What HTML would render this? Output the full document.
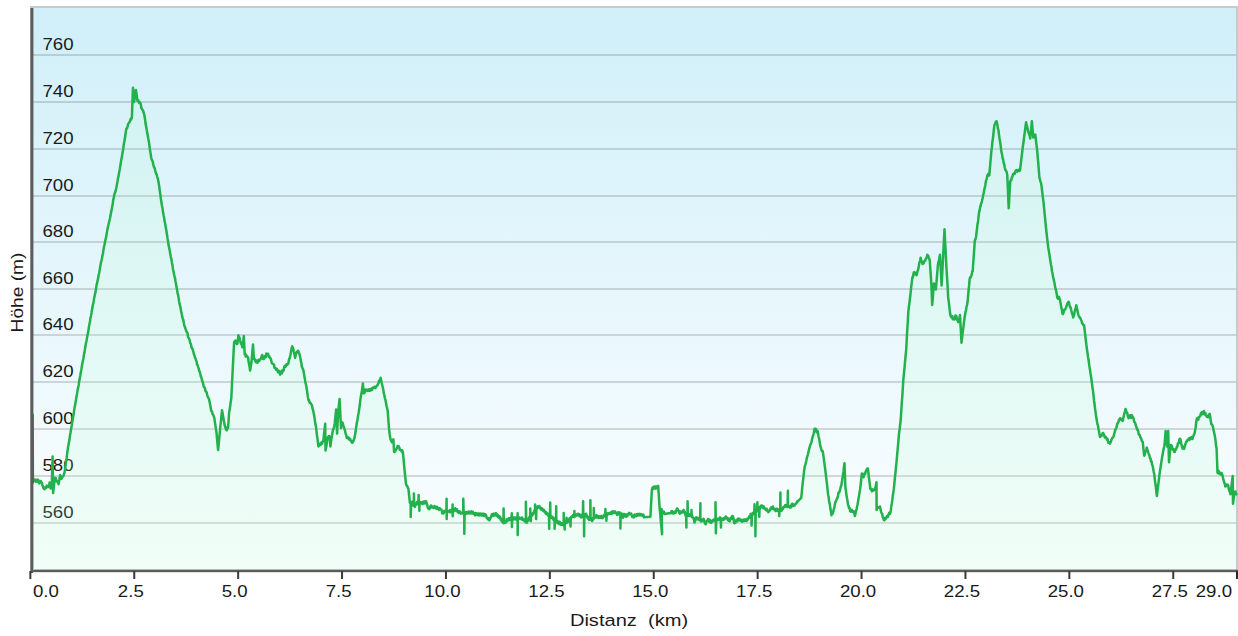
<!DOCTYPE html>
<html><head><meta charset="utf-8"><style>
html,body{margin:0;padding:0;background:#fff;width:1238px;height:636px;overflow:hidden}
svg{display:block}
text{font-family:"Liberation Sans",sans-serif;fill:#1a1a1a}
.yl{font-size:16.5px}
.xl{font-size:16.5px}
.tt{font-size:16.8px}
</style></head><body>
<svg width="1238" height="636" viewBox="0 0 1238 636">
<defs>
<linearGradient id="bg" x1="0" y1="0" x2="0" y2="1">
<stop offset="0" stop-color="#d0eff9"/>
<stop offset="1" stop-color="#fcfeff"/>
</linearGradient>
</defs>
<rect x="30" y="6" width="1208" height="565" fill="#c8c8c8"/>
<rect x="32" y="7" width="1205" height="563" fill="#c3cdd1"/>
<rect x="33" y="8" width="1203" height="562" fill="url(#bg)"/>
<g shape-rendering="crispEdges"><rect x="33" y="54" width="1203" height="2" fill="#000" fill-opacity="0.14"/><rect x="33" y="101" width="1203" height="2" fill="#000" fill-opacity="0.14"/><rect x="33" y="148" width="1203" height="2" fill="#000" fill-opacity="0.14"/><rect x="33" y="195" width="1203" height="2" fill="#000" fill-opacity="0.14"/><rect x="33" y="241" width="1203" height="2" fill="#000" fill-opacity="0.14"/><rect x="33" y="288" width="1203" height="2" fill="#000" fill-opacity="0.14"/><rect x="33" y="334" width="1203" height="2" fill="#000" fill-opacity="0.14"/><rect x="33" y="381" width="1203" height="2" fill="#000" fill-opacity="0.14"/><rect x="33" y="428" width="1203" height="2" fill="#000" fill-opacity="0.14"/><rect x="33" y="475" width="1203" height="2" fill="#000" fill-opacity="0.14"/><rect x="33" y="522" width="1203" height="2" fill="#000" fill-opacity="0.14"/></g>
<g><text transform="translate(42.5,50) scale(1.13,1)" class="yl">760</text><text transform="translate(42.5,97) scale(1.13,1)" class="yl">740</text><text transform="translate(42.5,144) scale(1.13,1)" class="yl">720</text><text transform="translate(42.5,191) scale(1.13,1)" class="yl">700</text><text transform="translate(42.5,237) scale(1.13,1)" class="yl">680</text><text transform="translate(42.5,284) scale(1.13,1)" class="yl">660</text><text transform="translate(42.5,330) scale(1.13,1)" class="yl">640</text><text transform="translate(42.5,377) scale(1.13,1)" class="yl">620</text><text transform="translate(42.5,424) scale(1.13,1)" class="yl">600</text><text transform="translate(42.5,471) scale(1.13,1)" class="yl">580</text><text transform="translate(42.5,518) scale(1.13,1)" class="yl">560</text></g>
<path d="M32.6,414.7 L32.9,482.6 L33.5,481.1 L34.1,479.6 L34.7,479.6 L35.2,480.8 L35.7,479.8 L36.2,481.9 L36.7,481.2 L37.2,480 L37.7,479.6 L38.2,479.8 L38.7,482.2 L39.2,483.4 L39.8,481.4 L40.3,482.7 L40.9,481.1 L41.4,482.6 L41.9,482.8 L42.4,484.9 L42.9,486.3 L43.4,488.2 L43.9,487.3 L44.4,489.3 L45,487.6 L45.5,487.8 L46.1,487.9 L46.7,485.6 L47.4,486.6 L48.1,487.1 L48.6,485.4 L49.1,485.2 L49.6,482.6 L50.2,484.8 L50.7,488.6 L51.3,485.4 L51.9,481.1 L52.6,456.5 L53.1,493.1 L53.7,487.8 L54.3,482.7 L54.9,478.1 L55.5,477.7 L56,479 L56.5,481.3 L57.1,481.1 L57.6,481.2 L58.1,483.3 L58.6,484.1 L59.1,481.3 L59.6,477.9 L60.1,475.1 L60.6,476.5 L61.1,476.5 L61.6,478.9 L62.1,476.8 L62.6,476.5 L63.1,476.6 L63.8,474.8 L64.6,472.2 L65.1,468.6 L65.6,464.9 L66.1,461.7 L66.7,457.7 L67.2,453.4 L67.8,449.1 L68.4,445.3 L68.9,442.6 L69.5,439.3 L70,435.4 L70.5,432.8 L71,429.5 L71.5,426.9 L72.1,423.5 L72.6,420 L73.2,416.3 L73.7,414.1 L74.3,409.4 L74.8,406.5 L75.4,403.3 L75.9,400.6 L76.5,396.5 L77,393.9 L77.6,390 L78.1,387.9 L78.7,384.9 L79.2,381.3 L79.7,378.5 L80.2,376 L80.8,372.2 L81.3,369.9 L81.8,366.8 L82.3,363.8 L82.9,360.7 L83.4,358.4 L83.9,354.9 L84.4,352.8 L84.9,349.2 L85.4,346.6 L86,342.8 L86.5,341 L87,338.1 L87.5,335 L88,333.1 L88.5,330 L89,326.4 L89.5,323.8 L90,321.5 L90.5,317.7 L91,315.7 L91.5,313 L92,309.8 L92.5,307 L93,304.2 L93.5,302.7 L94,298.9 L94.5,296.4 L95,294 L95.5,292.1 L96,288.8 L96.5,285.4 L97,283.4 L97.5,281 L98,278.9 L98.5,275.6 L99.1,273.3 L99.6,270.5 L100.2,266.7 L100.7,264.1 L101.3,261.1 L101.8,259.2 L102.4,255.7 L102.9,253.7 L103.5,249.6 L104,246.9 L104.6,244.2 L105.1,241.5 L105.6,239.2 L106.2,236.6 L106.7,233.7 L107.2,230.6 L107.8,227.5 L108.3,225.6 L108.9,222.9 L109.4,220.6 L109.9,218.7 L110.5,215.6 L111,212.6 L111.6,210.1 L112.1,207.3 L112.7,204.3 L113.2,199.9 L113.8,198 L114.4,194 L114.9,193 L115.4,191.5 L115.9,189.7 L116.4,187.4 L117,184.3 L117.5,181.4 L118.1,177.9 L118.6,175.9 L119.2,172 L119.7,169.8 L120.3,165.8 L120.8,162.7 L121.4,159.4 L122,156.3 L122.5,152.6 L123.1,150 L123.6,145.7 L124.2,142.3 L124.8,138.7 L125.3,135.5 L125.9,131.4 L126.4,128.5 L127,128.4 L127.5,126.6 L128.1,124.2 L128.6,123.4 L129.1,122.6 L129.7,121.9 L130.2,120.4 L130.8,118.6 L131.3,119.5 L131.9,117.4 L132.5,100 L133,87.7 L133.6,95.3 L134.1,102 L134.7,97.9 L135.3,93.9 L135.9,89.9 L136.4,93 L136.9,96.7 L137.4,100.9 L137.9,100.6 L138.5,100.5 L139.1,103 L139.6,102 L140.2,102.8 L140.8,104.2 L141.3,108 L141.9,108.6 L142.4,109.9 L142.9,110.1 L143.5,112.3 L144,113.4 L144.5,115.9 L145.1,119.8 L145.6,123.8 L146.2,126.8 L146.7,129.4 L147.2,132.9 L147.8,135.5 L148.3,138.8 L148.9,141.8 L149.4,145.5 L150,149.9 L150.6,153.5 L151.2,157.5 L151.7,159.7 L152.2,160.2 L152.7,161.5 L153.2,164.3 L153.7,166.3 L154.2,167.5 L154.7,168.2 L155.2,170.6 L155.7,172.3 L156.2,173.9 L156.7,174.5 L157.2,176.8 L157.7,178.2 L158.2,180.2 L158.7,183.3 L159.3,187 L159.8,191.1 L160.4,194.8 L160.9,198.9 L161.4,202.3 L162,205.9 L162.5,208.2 L163,212.1 L163.6,215.3 L164.1,217.6 L164.6,221.3 L165.1,223.4 L165.6,226.2 L166.1,229.2 L166.6,232.2 L167.1,235.2 L167.6,238.9 L168.1,241.7 L168.6,245.3 L169.2,248.1 L169.7,250.4 L170.2,253.6 L170.8,256.8 L171.3,258.5 L171.9,262.4 L172.4,265 L172.9,268.4 L173.4,270.9 L173.9,273.5 L174.4,275.8 L175,278 L175.5,281.7 L176,283.6 L176.5,287.1 L177,289.3 L177.5,292.9 L178.1,294.8 L178.6,297.6 L179.1,301.4 L179.6,303.9 L180.1,305.8 L180.7,308.5 L181.2,312 L181.7,313.4 L182.3,317.1 L182.8,319 L183.3,319.8 L183.9,323.3 L184.4,325.7 L185,327.2 L185.5,329 L186,330 L186.6,331.9 L187.1,332.3 L187.6,333.5 L188.1,337.2 L188.6,337.8 L189.2,339 L189.7,340.3 L190.2,343 L190.8,343.7 L191.3,346.4 L191.8,348.1 L192.4,348.5 L192.9,350.4 L193.5,352.3 L194,354.5 L194.5,355.4 L195,357.8 L195.6,358.6 L196.1,360.5 L196.6,361.4 L197.1,364.7 L197.6,365 L198.1,366.8 L198.7,368.6 L199.2,370.9 L199.7,371.5 L200.2,373.3 L200.8,376.2 L201.3,377.3 L201.8,379.3 L202.3,381.2 L202.8,382.1 L203.4,384.9 L203.9,387 L204.4,387.3 L204.9,388 L205.5,391.2 L206,391.6 L206.6,392.3 L207.1,394.5 L207.7,396.6 L208.2,397.6 L208.8,398.5 L209.3,400.4 L209.9,403.2 L210.4,406 L210.9,409.2 L211.5,411.4 L212.1,411.7 L212.6,414.2 L213.2,414.7 L213.7,416.1 L214.3,418 L214.9,422 L215.4,425.2 L215.9,428.9 L216.5,432.4 L217,438.5 L217.6,444.6 L218.1,450 L218.7,444.2 L219.2,438.6 L219.8,432.7 L220.3,426.9 L220.9,421.4 L221.4,416 L222,410.3 L222.6,413.2 L223.1,416.4 L223.6,419.3 L224.2,422.4 L224.7,425.5 L225.3,427.2 L225.8,429 L226.4,430.2 L226.9,430.2 L227.4,427.3 L228,428 L228.6,420.3 L229.1,412.5 L229.7,409.6 L230.2,405.9 L230.8,401.2 L231.3,398.2 L231.9,385.8 L232.5,373.9 L233.1,361.8 L233.6,351.8 L234.1,342.4 L234.7,341.3 L235.4,340.5 L236,342.4 L236.5,343.4 L237,344.1 L237.5,343.4 L238.4,335.2 L238.9,337.6 L239.4,337.2 L239.9,339.5 L240.5,341.9 L241.1,343.8 L241.7,344.6 L242.3,347.3 L242.8,344.1 L243.3,340.5 L243.8,336.1 L244.7,354.1 L245.2,353.6 L245.7,356.6 L246.2,355.2 L246.7,356 L247.4,356.7 L248.1,357.5 L248.6,361.5 L249.1,364.5 L249.6,366.7 L250.1,370.5 L250.8,366 L251.5,361.8 L252,356 L252.5,350 L253,344.4 L253.9,358.9 L254.4,358.6 L254.9,359.7 L255.4,360.9 L256,362.3 L256.7,360.5 L257.3,362.8 L257.8,362.5 L258.3,361.6 L258.8,359.7 L259.3,360.9 L260,359.4 L260.7,358.9 L261.2,357.9 L261.7,356.3 L262.2,355 L263.1,358.9 L263.6,356.8 L264.1,358.9 L264.6,357.6 L265.1,356 L265.7,357.2 L266.3,353.6 L266.9,353.7 L267.5,354.1 L268.1,353.7 L268.7,356.8 L269.3,356.3 L269.9,357.9 L270.5,358.1 L271.1,360 L271.6,362.6 L272.2,363.5 L272.8,363.8 L273.4,364.1 L274,364.7 L274.5,367.9 L275.1,367.8 L275.7,368.6 L276.3,370 L276.9,368.9 L277.4,369.6 L278,372.3 L278.6,372.5 L279.1,372.3 L279.6,371 L280.1,374.7 L280.6,373 L281.2,373.1 L281.8,373.4 L282.4,370.3 L283,371.5 L283.6,370.4 L284.3,366.6 L284.9,365.7 L285.5,366.8 L286.1,364.9 L286.6,364.2 L287.2,364.7 L287.8,364.2 L288.3,363.6 L288.8,360.5 L289.3,358.6 L289.8,357.9 L290.4,355 L291,351.6 L291.6,348.5 L292.2,346.3 L292.7,347.2 L293.2,348.6 L293.7,351.2 L294.4,354 L295.1,357.9 L295.6,355.6 L296.1,353.6 L296.6,352.1 L297.3,352.3 L298,350.7 L298.5,351.3 L299,353 L299.5,354.1 L300.1,356.7 L300.7,360.1 L301.3,362.7 L301.9,366.7 L302.5,368.1 L303.2,369.5 L303.8,372.5 L304.4,376.6 L305,379.9 L305.5,382.8 L306.1,385 L306.6,388.3 L307.1,391.2 L307.8,396.4 L308.5,400.4 L309,399.9 L309.6,402.8 L310.1,402.3 L310.6,403.2 L311.3,404.3 L312,405.4 L312.5,408.5 L313.1,410.2 L313.6,412.8 L314.1,415.3 L314.7,419.1 L315.2,423.1 L315.8,425.6 L316.3,429.4 L316.8,434.1 L317.4,438.2 L317.9,442.3 L318.4,446.4 L318.9,445.7 L319.4,445.1 L320,443.7 L320.5,445 L321.1,443.1 L321.6,442.2 L322.2,443.6 L322.7,441.3 L323.3,441.4 L323.9,435.1 L324.6,429.1 L325.2,423.7 L325.5,450.6 L326,448 L326.6,444.8 L327.1,441.3 L327.6,437.9 L328.1,436.8 L328.6,436.3 L329.2,436.1 L329.7,436.5 L330.4,446.4 L330.9,442.8 L331.4,438.8 L332,435.7 L332.5,432.2 L333.1,429.6 L333.6,428.9 L334.1,426.8 L334.7,423.7 L335.4,416.7 L336.1,409.6 L336.6,421.5 L337.1,433.6 L337.6,423.3 L338.2,412.4 L338.9,405.5 L339.6,399 L340.3,413.4 L341,428 L341.7,424.2 L342.4,422.3 L342.9,423.8 L343.5,425.8 L344.1,427.6 L344.6,429.4 L345.1,430.9 L345.6,433.7 L346.2,434.8 L346.7,437.9 L347.3,437.5 L347.8,437.3 L348.4,438.8 L348.9,437.9 L349.5,440 L350.1,438.9 L350.6,440.5 L351.2,440.8 L351.7,442.5 L352.3,442.8 L352.9,441.7 L353.4,441 L353.9,439.5 L354.5,437.9 L355,434.9 L355.6,431.8 L356.1,427.7 L356.6,424.5 L357.1,421.2 L357.6,419.2 L358.2,414.9 L358.7,412.4 L359.2,408.8 L359.8,404.8 L360.3,400.2 L360.8,396.9 L361.3,394 L361.9,390.7 L362.4,387 L362.9,383.4 L363.6,393.3 L364.2,393.1 L364.7,392.5 L365.2,389.6 L365.8,389.8 L366.3,389.8 L366.8,389.6 L367.3,390.9 L367.8,390.7 L368.3,390.7 L368.8,389.5 L369.3,389.1 L369.9,390.8 L370.4,390.1 L371,390.3 L371.5,388.6 L372.1,389.8 L372.7,387.7 L373.3,387.6 L373.8,388 L374.4,386.7 L375,387.7 L375.5,388.2 L376,386.7 L376.5,386.3 L377,385.6 L377.5,385.2 L378,384 L378.5,383.4 L379,380.8 L379.6,381.3 L380.1,379.8 L380.6,377.8 L381.1,380.1 L381.6,382.5 L382.2,385 L382.7,387 L383.2,389.1 L383.8,393.1 L384.3,395 L384.9,398.3 L385.5,400 L386,402.9 L386.6,406.3 L387.1,407.9 L387.7,411 L388.4,420.4 L389.1,429.4 L389.8,435 L390.5,439.3 L391.2,440.7 L391.9,442.1 L392.4,440.8 L392.9,440.2 L393.4,439.3 L394.1,452 L394.6,451.9 L395.1,451.4 L395.7,450.3 L396.2,449.2 L396.8,448.7 L397.5,446 L398.1,446.3 L398.7,446.2 L399.3,447.5 L399.9,449.9 L400.5,450.2 L401.1,450.1 L401.7,451.6 L402.3,450.3 L402.9,452.6 L403.4,457.4 L403.9,462.8 L404.4,468.3 L404.9,473.7 L405.5,479 L406,484 L406.6,485.7 L407.2,485.8 L407.8,487.6 L408.4,488.7 L408.9,493.4 L409.4,498.1 L409.9,502.9 L410,502.9 L410.7,501.9 L410.7,517 L411.1,503.9 L411.4,502.9 L411.4,502.1 L411.8,504.1 L412.1,504 L412.5,501.8 L412.8,503.4 L413.2,504.8 L413.2,505 L413.5,505.7 L413.9,504.8 L413.9,493.5 L414.2,504.8 L414.6,505.1 L414.6,505 L414.9,506.9 L415.3,504.5 L415.6,505 L416,503.4 L416.3,503.9 L416.7,504.5 L417,501.9 L417.4,503.8 L417.7,503 L417.9,503.2 L418.1,504.1 L418.4,503.7 L418.6,495 L418.7,503.3 L418.8,502.5 L419.1,504.3 L419.3,503.2 L419.4,510.8 L419.5,503.3 L419.8,502.1 L420.1,503.3 L420.2,502.1 L420.5,503.5 L420.9,503.4 L421.2,503.1 L421.6,502.7 L421.9,503.2 L422.3,502.9 L422.6,504.1 L423,501.8 L423.3,503.5 L423.7,503.6 L424,501.5 L424.4,503.5 L424.7,502.7 L425.1,503 L425.4,501.3 L425.8,501.3 L426.1,501.2 L426.5,502.8 L426.8,503.5 L427.2,504.6 L427.5,506.5 L427.9,507.9 L428.2,507.8 L428.6,507.6 L428.9,509.2 L429.3,507.4 L429.6,508.7 L430,506.6 L430.3,506.3 L430.7,506.6 L431,505.4 L431.4,505.7 L431.7,507.4 L432.1,507.3 L432.4,507.2 L432.8,506.9 L433.1,507.7 L433.5,507.9 L433.8,507 L434.2,507.6 L434.5,506 L434.9,507.8 L435.2,507.2 L435.6,508.1 L435.9,508 L436.3,507.2 L436.6,506.7 L437,509.1 L437.3,507.1 L437.7,508.1 L438,507.9 L438.4,507.9 L438.7,509.2 L439.1,509.9 L439.4,508.2 L439.8,509.3 L440.1,508.5 L440.5,509.3 L440.8,509.3 L441.2,509.4 L441.5,510.1 L441.9,510.9 L442.2,513.4 L442.6,512.3 L442.9,511.5 L443.3,513.2 L443.6,513.4 L444,512 L444.3,511.1 L444.7,511.2 L445,510.9 L445.4,511.5 L445.7,510.8 L445.9,511.8 L446,511.8 L446.1,511.2 L446.4,511.2 L446.6,498.7 L446.7,519.1 L446.8,511.9 L447.1,512.7 L447.3,511.8 L447.4,511.8 L447.5,512.3 L447.8,511.4 L448.2,511.4 L448.5,511.6 L448.9,511.2 L449.2,511 L449.6,510.3 L449.9,510.8 L450.3,512.4 L450.6,510.1 L451,511 L451.3,511.2 L451.7,511.7 L451.9,510.4 L452,510.4 L452,509.9 L452.4,509.9 L452.6,504.6 L452.7,516.2 L452.7,509.7 L453.1,510 L453.3,510.4 L453.4,510.4 L453.4,510 L453.8,511.2 L454.1,510.8 L454.5,510.7 L454.8,508.4 L455.2,508.3 L455.5,509.9 L455.9,510.7 L456.2,509.9 L456.6,510.4 L456.9,509.1 L457.3,510.4 L457.6,512.1 L458,512.1 L458.3,512.4 L458.7,513 L459,511.3 L459.4,511.2 L459.7,511.4 L460.1,512.4 L460.4,512.9 L460.8,513.6 L461.1,513.1 L461.5,512.9 L461.8,513.3 L462.2,512.5 L462.5,512.8 L462.6,512.8 L462.9,511.5 L463.2,513.5 L463.3,498.7 L463.6,512.1 L463.6,512.9 L463.9,514 L464,512.8 L464.3,513.3 L464.3,533.7 L464.6,512.5 L465,512 L465,512.9 L465.3,512.4 L465.7,513.5 L466,513.7 L466.4,512.2 L466.7,512.1 L467.1,513.3 L467.4,513.4 L467.8,512.8 L468.1,512.2 L468.5,513.1 L468.8,511.4 L469.2,512 L469.5,512.3 L469.9,513.5 L470.2,512.5 L470.6,513 L470.9,511.8 L471.3,511.2 L471.6,511.5 L472,513.5 L472.3,513.1 L472.7,512.3 L473,511.8 L473.4,513.2 L473.7,513.9 L474.1,513.5 L474.4,513.3 L474.8,514.6 L475.1,515.4 L475.5,513.6 L475.8,513.1 L476.2,513.9 L476.5,514.1 L476.9,514.8 L477.2,513.5 L477.6,515.1 L477.9,514.9 L478.3,514.3 L478.6,513.5 L479,515.5 L479.3,513.8 L479.7,515.1 L480,513.6 L480.4,513.6 L480.7,515 L481.1,513.8 L481.4,515.6 L481.8,514.4 L482.1,513.7 L482.5,513.8 L482.8,514.3 L483.2,515 L483.5,515.8 L483.9,513.8 L484.2,514.5 L484.6,514 L484.9,516.2 L485.3,514.4 L485.6,514.5 L486,514.9 L486.3,516.1 L486.7,517.8 L487,518.1 L487.4,518.1 L487.7,519.1 L488.1,519.3 L488.4,518.1 L488.8,518 L489.1,520.3 L489.5,520.2 L489.8,517.9 L490.2,519 L490.5,517.6 L490.9,517 L491.2,516.3 L491.6,515.3 L491.9,514.3 L492.3,514.5 L492.6,514.4 L493,515.9 L493.3,513.7 L493.7,515.8 L494,513.8 L494.4,514.2 L494.7,515.3 L495.1,515.3 L495.4,514.2 L495.8,513.2 L496.1,514.3 L496.5,514.1 L496.8,515.9 L497.2,514.4 L497.5,515.1 L497.9,516.9 L498.2,515 L498.6,516.3 L498.9,517.7 L499.3,517.9 L499.6,516.4 L500,516.7 L500.3,517.2 L500.7,519.8 L501,518.6 L501.4,520.3 L501.7,521.1 L502.1,520.1 L502.4,520.3 L502.8,522.5 L502.9,522.4 L503.1,522.1 L503.5,521.6 L503.6,508.4 L503.8,523.2 L504.2,522.5 L504.3,522.4 L504.5,522 L504.9,521 L505.2,522.6 L505.6,522.6 L505.9,521.5 L506.3,522 L506.6,519.3 L507,519.5 L507.3,519.7 L507.7,520.6 L508,520.3 L508.4,518.8 L508.7,518.4 L509.1,518.8 L509.4,519 L509.8,520.1 L510.1,518.1 L510.5,519.7 L510.8,519.5 L511.1,518.8 L511.2,519.7 L511.2,518.8 L511.5,519.6 L511.8,513.3 L511.9,519.1 L511.9,526.9 L512.2,518.4 L512.5,518.8 L512.6,518.3 L512.6,518.8 L512.9,518.4 L513.1,518.7 L513.3,519.5 L513.6,517.6 L513.8,519.1 L514,517.9 L514.3,519.3 L514.5,518.7 L514.7,518 L515,517.5 L515.4,517.4 L515.7,518.7 L516.1,518.1 L516.4,519.8 L516.8,519.5 L516.9,518.5 L517,518.5 L517.1,519.8 L517.5,517.9 L517.6,513.3 L517.7,535.1 L517.8,517.4 L518.2,517.4 L518.3,518.5 L518.4,518.5 L518.5,518.4 L518.9,518.9 L519.2,518.2 L519.6,517.6 L519.9,518.1 L520.3,518.6 L520.6,518.7 L521,518.9 L521.3,519.1 L521.7,518.7 L522,517.5 L522.4,519.7 L522.7,518.5 L523.1,519.5 L523.4,519.3 L523.8,520.5 L524.1,519.4 L524.5,519.8 L524.8,520.1 L525.2,520.1 L525.2,521.6 L525.5,522.3 L525.9,521.8 L525.9,501.7 L526.2,521.4 L526.6,521.5 L526.6,521.6 L526.9,522.6 L527.3,520.9 L527.6,519.7 L528,520.7 L528.3,519.9 L528.7,520.3 L529,517.5 L529.4,518 L529.6,516.8 L529.7,518.5 L530.1,518 L530.1,516.2 L530.3,508.4 L530.4,517.8 L530.8,515 L530.8,521.1 L531,516.8 L531.1,515.2 L531.5,514.3 L531.5,516.2 L531.8,514 L532.2,515.6 L532.5,514.1 L532.9,514.6 L533.2,512.7 L533.6,513.5 L533.9,511.9 L534.3,511 L534.4,510.5 L534.6,511.9 L535,511.8 L535.1,504.6 L535.3,509.2 L535.4,509.1 L535.7,510 L535.8,510.5 L536,509.6 L536.1,519.1 L536.4,508.1 L536.7,508 L536.8,509.1 L537.1,507 L537.4,506.7 L537.8,506.3 L538.1,506.8 L538.5,507.2 L538.8,506.3 L539.2,506 L539.5,507.1 L539.9,508.3 L540.2,507.3 L540.6,507.9 L540.9,507.9 L541.3,509.7 L541.6,509.3 L542,508.3 L542.3,508.7 L542.7,509.7 L543,510.4 L543.4,510.9 L543.7,509.8 L544.1,510.2 L544.4,511.9 L544.8,511.4 L545.1,511.4 L545.5,511.7 L545.8,513.7 L546.2,512.3 L546.5,513.2 L546.9,513 L547.2,513.4 L547.6,514.9 L547.9,515.5 L548.3,514.2 L548.5,515.3 L548.6,514 L549,515.7 L549.2,528.8 L549.3,514.6 L549.5,516.1 L549.7,514.4 L549.9,515.3 L550,517 L550.2,502.6 L550.4,516.1 L550.7,517.4 L550.9,516.1 L551.1,516.6 L551.4,518.1 L551.8,517.3 L552.1,516.8 L552.5,516.7 L552.8,518.4 L553.2,518.9 L553.5,519.9 L553.9,518.1 L553.9,519.8 L554.2,519.8 L554.6,519.4 L554.6,528.8 L554.9,520 L555.3,519.4 L555.3,519.8 L555.5,521.1 L555.6,520.1 L556,521 L556.2,506.2 L556.3,522.3 L556.7,520.5 L556.9,521.1 L557,521.7 L557.4,522.7 L557.7,523.3 L558.1,521.5 L558.4,521.5 L558.8,523.7 L559.1,524 L559.5,522.9 L559.8,521.9 L560.2,524.4 L560.5,523.2 L560.9,524.7 L561.2,524.1 L561.6,524.8 L561.9,523.3 L562.3,525.1 L562.6,523.8 L563,524.3 L563,524 L563.3,525.2 L563.7,524.9 L563.7,512.9 L564,523.3 L564,523 L564.4,522.8 L564.4,524 L564.7,529.4 L564.7,523.1 L565.1,523.1 L565.4,523.3 L565.4,522.5 L565.8,521.6 L565.9,522 L566.1,521.7 L566.5,522.7 L566.6,517.8 L566.8,522.9 L567.2,520.5 L567.3,522 L567.5,521.6 L567.9,521.9 L568.2,519.8 L568.6,521.6 L568.9,519.3 L569.3,520.1 L569.6,519.5 L569.8,518.1 L570,519.2 L570.3,517.9 L570.5,526.5 L570.7,517.7 L571,517.7 L571.2,518.1 L571.4,516.8 L571.7,517.2 L572.1,516.5 L572.4,516.5 L572.8,515.3 L573.1,516.8 L573.5,516.4 L573.7,516.2 L573.8,515.6 L574.2,516.9 L574.4,511 L574.5,516.9 L574.9,516 L575.1,516.2 L575.2,515.2 L575.6,515.9 L575.9,514.8 L576.3,514.8 L576.6,515.4 L577,514.4 L577.3,515.1 L577.7,515.2 L578,513.8 L578.4,515.3 L578.7,514 L579.1,515.9 L579.4,516.3 L579.8,515.8 L580.1,514.8 L580.5,516.2 L580.8,516 L581.2,517.4 L581.5,515.1 L581.9,516.9 L582.2,517.2 L582.4,515.7 L582.6,516.4 L582.9,516.5 L583.1,501.3 L583.3,514.8 L583.4,515.4 L583.6,516.8 L583.8,515.7 L584,515.4 L584.1,536.2 L584.3,516.5 L584.7,516.3 L584.8,515.4 L585,514.3 L585.4,515.8 L585.7,516.1 L586.1,513.8 L586.4,515.1 L586.8,516.7 L587.1,515.6 L587.5,518 L587.8,516.9 L588.2,518.8 L588.5,517.3 L588.9,518.6 L589.2,519.9 L589.6,518.4 L589.7,519.9 L589.9,518.9 L590.3,519.8 L590.4,500.3 L590.6,519.6 L591,519.2 L591.1,519.9 L591.3,519.9 L591.7,519.4 L592,521.1 L592.4,520 L592.7,520.2 L593.1,517.9 L593.1,518 L593.4,519.1 L593.8,517 L593.8,508.1 L594.1,517.7 L594.5,517.6 L594.5,518 L594.8,516.5 L595.2,517.5 L595.5,516.3 L595.9,516.2 L596.2,517 L596.6,515.1 L596.9,517.6 L597.3,516.7 L597.6,516.2 L598,517.4 L598.3,516.1 L598.7,518.1 L599,517.1 L599.4,516.6 L599.7,517.7 L600.1,516.9 L600.4,516.3 L600.8,517.8 L601.1,516.1 L601.5,518.1 L601.8,516.5 L602.2,517.4 L602.5,518.1 L602.9,516.9 L603.2,517 L603.6,515.9 L603.9,515 L604.3,514.9 L604.6,515 L604.7,515.6 L605,516.1 L605.3,515.5 L605.4,509.1 L605.7,515.5 L605.7,515.2 L606,516.4 L606.1,515.6 L606.4,514.2 L606.4,520.7 L606.7,514.3 L607.1,515.3 L607.1,515.2 L607.4,513.5 L607.8,513.3 L608.1,514 L608.5,513.2 L608.8,513.7 L609.2,513.2 L609.5,514 L609.9,513.9 L610.2,512.7 L610.6,513.6 L610.9,513 L611.3,512 L611.6,513.9 L612,511.9 L612.3,511.5 L612.7,511.2 L613,512.4 L613.4,513 L613.7,512.9 L614.1,512 L614.4,511.8 L614.8,511.2 L615.1,513 L615.5,512.8 L615.8,512.4 L616.2,513.3 L616.3,513.1 L616.5,512.8 L616.9,514.2 L617,514.9 L617.2,513.8 L617.6,512.6 L617.7,513.1 L617.9,514.4 L618.3,512.3 L618.6,513.7 L619,513.4 L619.3,513.1 L619.7,512.7 L619.7,514.1 L620,514.7 L620.4,512.8 L620.4,528.4 L620.7,514.3 L621.1,515.4 L621.1,514.1 L621.4,513.5 L621.8,513.7 L622.1,514.8 L622.1,514.9 L622.5,514.7 L622.8,517.8 L622.8,515.1 L623.2,515.7 L623.5,514.8 L623.5,514.1 L623.9,514.6 L624.2,514.7 L624.6,514.1 L624.9,516.4 L625.3,516.2 L625.6,516.1 L626,514.4 L626.3,516.7 L626.7,516.5 L627,515.6 L627.4,516 L627.7,515 L628.1,514.1 L628.4,513.6 L628.8,513.6 L629.1,512.9 L629.5,513.4 L629.8,514.2 L630.2,513.8 L630.5,513.9 L630.9,514 L631.2,513.5 L631.6,515 L631.9,515.4 L632.3,517 L632.6,516.8 L633,516 L633.3,516.8 L633.7,517.4 L634,515.3 L634.4,516.9 L634.7,514.5 L635.1,514.9 L635.4,514.7 L635.8,515.9 L636.1,516.2 L636.5,515.5 L636.8,514.3 L637.2,515.7 L637.5,514.2 L637.9,513.9 L638.2,515.5 L638.6,514.7 L638.9,514.8 L639.3,514.6 L639.6,515.3 L640,513.9 L640.3,514.8 L640.7,514.6 L641,515.3 L641.4,514.4 L641.7,515.4 L642.1,515.2 L642.4,514.7 L642.8,514.7 L643.1,516 L643.5,514.8 L643.8,517.2 L650.4,516.8 L650.9,507.5 L651.4,498.4 L651.9,489.7 L652.5,487.5 L653.2,489.1 L653.8,486.8 L654.3,486.7 L654.8,486.5 L655.3,486.6 L655.8,488.7 L656.4,486.5 L657,487.9 L657.6,487 L658.2,485.8 L658.7,493.7 L659.2,501.5 L659.7,509.1 L660.3,514.9 L660.9,521.8 L661.5,527.9 L662.1,534.3 L661.6,509.1 L662.2,511 L662.8,512 L663.3,513.1 L663.9,511.7 L664.5,513.9 L670.3,513 L670.6,513.1 L671,513.3 L671.4,511.2 L671.7,511.5 L672.1,511.3 L672.4,511.2 L672.8,513.4 L673.1,513.3 L673.5,513 L673.8,513.5 L674.2,513.1 L674.5,512.3 L674.9,511.8 L675.2,511.5 L675.6,512.7 L675.9,510.7 L676.3,510.5 L676.6,510.2 L677,508.6 L677.3,508.6 L677.7,508.9 L678,510.6 L678.4,510.3 L678.7,510.7 L679.1,512.9 L679.4,512.3 L679.8,513.7 L680.1,513.1 L680.5,511.4 L680.8,512.2 L681.2,512.1 L681.5,512.8 L681.9,511.5 L682.2,512.3 L682.6,511.7 L682.9,510.7 L683.3,512.2 L683.6,510 L684,512.3 L684.3,511.3 L684.7,511.6 L685,512.8 L685.4,514.9 L685.7,514.9 L685.7,516.1 L686.1,513.6 L686.4,527.5 L686.4,514.9 L686.8,514.9 L686.9,514.9 L687.1,514.9 L687.1,515.7 L687.5,514.1 L687.6,501.3 L687.8,514.9 L688.2,514.5 L688.3,514.9 L688.5,515.8 L688.9,514.3 L689.2,516.1 L689.6,514.4 L689.9,514.4 L690.3,515.8 L690.6,515.5 L690.8,516 L691,514.7 L691.3,516.3 L691.5,510 L691.7,515 L692,517 L692.2,516 L692.4,517 L692.7,517.4 L693.1,517.6 L693.4,518.1 L693.8,519.3 L694.1,520.4 L694.5,522.6 L694.8,519.8 L695.2,521.2 L695.5,518.2 L695.9,518 L696.2,517.4 L696.6,519 L696.9,518.1 L697.3,518 L697.6,519.4 L698,517.9 L698.3,518.7 L698.7,519.1 L699,519.9 L699.4,520.1 L699.7,520.2 L699.7,520.1 L700.1,519.6 L700.4,503.3 L700.4,519.7 L700.8,519.5 L701.1,520.2 L701.1,521.5 L701.5,521 L701.8,521.1 L702.2,519.5 L702.5,520.1 L702.9,520.8 L703.2,520.2 L703.6,518.9 L703.9,519.7 L704.3,521.5 L704.6,521.7 L705,523.5 L705.3,523.6 L705.7,524.1 L706,523.9 L706.4,521.5 L706.7,520.9 L707.1,520.6 L707.4,520.2 L707.8,520.2 L708.1,518.9 L708.5,519.6 L708.8,519.4 L709.2,521.7 L709.5,521.3 L709.9,519.9 L710.2,522.4 L710.6,520.4 L710.9,521.4 L711.3,522.8 L711.6,522.2 L712,521.9 L712.3,521 L712.7,520.3 L713,521.3 L713.4,519.8 L713.7,520 L714.1,520.3 L714.4,519.3 L714.8,520.2 L714.8,520.3 L715.1,521.1 L715.2,520.1 L715.5,520.8 L715.5,502.3 L715.8,520.2 L715.9,533.3 L716.2,520.4 L716.2,520.3 L716.5,519.9 L716.6,520.1 L716.9,519 L717.2,520.1 L717.6,519.5 L717.9,520 L718.3,520.1 L718.6,518.6 L719,518.6 L719.3,518.7 L719.7,517.6 L720,517.3 L720.3,518.5 L720.4,518.8 L720.7,519.3 L721,527.5 L721.1,519.2 L721.4,519.2 L721.7,518.5 L721.8,519.8 L722.1,519.5 L722.5,519.6 L722.8,519.3 L723.2,519.1 L723.5,519.9 L723.9,518.1 L724.2,518.6 L724.6,519.1 L724.9,518.5 L725.3,517.9 L725.6,516.5 L726,516.7 L726.3,517.1 L726.7,518 L727,517.8 L727.4,518.9 L727.7,520 L728.1,518.4 L728.4,520.1 L728.8,520.8 L729.1,520.2 L729.5,520.5 L729.8,521.3 L730.2,518.4 L730.5,519.3 L730.9,517.9 L731.2,519 L731.6,519 L731.9,517.5 L732.3,515.9 L732.6,516.7 L733,516.2 L733.3,517.8 L733.7,519.6 L734,522.3 L734.4,523.3 L734.7,522.2 L735.1,521.7 L735.4,522.8 L735.8,520.6 L736.1,521.6 L736.5,520.6 L736.8,521.3 L737.2,519.4 L737.5,521.3 L737.9,519.4 L738.2,518.6 L738.6,519.2 L738.9,519.6 L739.3,518.7 L739.6,519.8 L740,519.9 L740.3,520.7 L740.7,519.9 L741,519.7 L741.4,519.7 L741.7,521.1 L742.1,521.7 L742.4,520.7 L742.8,520 L743.1,521.4 L743.5,520.3 L743.8,519.7 L744.2,519.4 L744.5,521 L744.9,521 L745.2,520.4 L745.6,519.9 L745.9,520.1 L746.3,519.1 L746.6,520.9 L747,519.1 L747.3,519.5 L747.7,519.7 L748,519.4 L748.4,518.1 L748.7,517.4 L749.1,517.7 L749.4,516.3 L749.8,517.8 L749.9,516.2 L750.1,516.3 L750.5,517.2 L750.6,513.9 L750.8,515.4 L750.9,515.3 L751.2,515.4 L751.3,516.2 L751.5,514.7 L751.6,525.5 L751.9,514.9 L752.2,513.9 L752.3,515.3 L752.6,513.1 L752.9,514.7 L753.3,513.2 L753.6,512.8 L753.8,512.7 L754,512.7 L754.3,512.8 L754.5,504.2 L754.7,512.4 L754.7,511.9 L755,512.6 L755.2,512.7 L755.4,512.3 L755.4,536.2 L755.7,511.2 L756.1,512.4 L756.1,511.9 L756.4,511.9 L756.7,510.1 L756.8,509.5 L757.1,511.2 L757.4,502.3 L757.5,511.1 L757.8,510.4 L758.1,510.1 L758.2,508.5 L758.5,509.9 L758.6,508.4 L758.9,509.1 L759.2,507.2 L759.3,516.8 L759.6,506.9 L759.9,509 L760,508.4 L760.3,507.9 L760.6,506.5 L761,505.8 L761.3,505.6 L761.7,505.6 L762,507.1 L762.4,506.2 L762.7,505.9 L763.1,508 L763.4,507.9 L763.8,506.5 L764.1,508.6 L764.5,508 L764.8,508.7 L765.2,508.6 L765.5,509.5 L765.9,509.6 L766.2,510.1 L766.6,508.8 L766.9,510.4 L767.3,510.3 L767.6,511.2 L768,510.8 L768.3,512.3 L768.7,511.8 L769,511.4 L769.4,510.7 L769.7,509.9 L770.1,510.2 L770.4,508.5 L770.8,509 L771.1,507.5 L771.5,507.8 L771.8,507.3 L772.2,507.4 L772.5,508.5 L772.9,506.5 L773.2,509 L773.6,508.2 L773.9,508.7 L774.3,509.3 L774.6,510 L775,509 L775.3,509.4 L775.7,511.1 L776,508.9 L776.4,510.4 L776.7,510.4 L777.1,508.8 L777.4,510.3 L777.8,510.5 L778.1,511.1 L778.5,509.6 L778.5,510 L778.8,511.3 L779.2,510 L779.2,515.9 L779.5,510 L779.7,510 L779.9,511 L779.9,510 L780.2,508.8 L780.4,492.6 L780.6,510.6 L780.9,510.3 L781.1,510 L781.3,509.6 L781.6,510.9 L782,509.2 L782.3,509.1 L782.7,508.8 L783,509 L783.4,507.1 L783.7,507.2 L784.1,506.8 L784.4,506.7 L784.8,507 L785.1,505.2 L785.5,506.1 L785.8,505.1 L786.2,505.5 L786.5,505 L786.9,505.8 L787.2,506.1 L787.2,507.1 L787.6,506.4 L787.9,490.7 L787.9,506.9 L788.3,505.8 L788.6,506.1 L788.6,506 L789,506 L789.3,506.9 L789.7,507.2 L790,507.7 L790.4,505.8 L790.7,507.2 L791.1,507.2 L791.4,505.9 L791.8,504.1 L792.1,504.5 L792.5,503.7 L792.8,504.1 L793.2,506 L793.5,505.2 L793.9,505.2 L794.2,505.6 L794.6,505.6 L794.9,504.5 L795.3,504.2 L795.6,503.8 L796,503.7 L796.3,503.1 L796.7,502.9 L797,501.4 L797.4,502.2 L797.7,501.3 L801.2,497.9 L801.8,492.4 L802.4,485.9 L803,480.6 L803.6,475.6 L804.1,470.7 L804.7,466.7 L805.2,465.2 L805.7,463.4 L806.3,460.8 L806.8,458.1 L807.3,456.3 L807.9,454.6 L808.4,452.3 L809,449.4 L809.5,448 L810,445.7 L810.6,444.3 L811.1,443 L811.6,441.6 L812.1,439 L812.6,437 L813.2,435.2 L813.7,433.5 L814.2,430.4 L814.7,428.7 L815.2,430.9 L815.7,428.8 L816.2,429.3 L816.7,432.2 L817.2,431.4 L817.7,431.2 L818.2,434.8 L818.7,437 L819.3,439.3 L819.8,442.9 L820.3,446 L820.8,447.4 L821.3,449.5 L821.9,450.9 L822.4,450.7 L822.9,452 L823.4,455.9 L823.9,459.4 L824.5,464.1 L825,467.5 L825.5,471.9 L826,476 L826.5,480.3 L827.1,484.8 L827.6,490.1 L828.1,494.4 L828.7,497.3 L829.2,502.1 L829.8,504.2 L830.4,508.8 L830.9,511.2 L831.5,515.2 L832.1,512.7 L832.7,513.5 L833.3,511.7 L833.8,509.1 L834.3,508 L834.8,504.8 L835.3,502.5 L835.8,501.3 L836.3,500.4 L836.9,498.8 L837.5,497.6 L838,495.8 L838.5,492.7 L839.1,492.5 L839.7,491.2 L840.2,489.2 L840.8,486.8 L841.3,485.5 L841.9,482.3 L842.4,478.2 L842.9,475.3 L843.5,471.2 L844,466.4 L844.5,463.3 L845.4,487.5 L845.9,490.2 L846.4,494.6 L847,498.3 L847.5,500.7 L848,504.8 L848.5,505.7 L849,508.1 L849.6,508.1 L850.1,511.2 L850.6,511.7 L851.2,511.6 L851.7,509.8 L852.3,511.1 L852.9,512 L853.4,511.4 L854,511.7 L854.9,516 L855.4,514.1 L855.9,510.8 L856.5,509.9 L857,506.8 L857.5,504.8 L858,501.9 L858.5,498.8 L859.1,495.3 L859.6,492.1 L860.1,489.2 L860.7,484.3 L861.2,479.3 L861.8,473.6 L862.4,475.5 L862.9,476.1 L863.5,477.1 L864,475.2 L864.5,473.3 L865.1,474.1 L865.6,472.1 L866.1,470.2 L866.7,470.7 L867.3,468.4 L867.9,468.4 L868.4,472.7 L868.9,477.3 L869.4,481.3 L869.9,485.2 L870.4,489.2 L870.9,488.6 L871.4,489.3 L872,491.3 L872.5,489.4 L873,490.1 L873.6,490.5 L874.2,489.9 L874.8,489.2 L875.4,487.7 L875.9,485.2 L876.5,482.3 L876.6,510 L877.2,508.7 L877.7,507.2 L878.3,507.5 L878.9,507.4 L879.4,507.4 L880,506.5 L880.6,509.4 L881.1,511.9 L881.7,513.4 L882.2,513.7 L882.7,517 L883.3,518.3 L883.8,519.8 L884.3,520.3 L884.8,519.7 L885.3,517.9 L885.9,518.8 L886.4,517.8 L886.9,516 L887.5,516.2 L888,516.6 L888.6,514.2 L889.2,512.8 L889.7,514 L890.3,513.4 L890.8,510.4 L891.3,506.1 L891.8,503.4 L892.3,500.2 L892.8,495.7 L893.3,492.8 L893.8,489.2 L894.3,484.2 L894.8,478.8 L895.4,473.3 L895.9,468.2 L896.4,463.3 L896.9,457.7 L897.4,451.8 L898,445.6 L898.5,439.3 L899,433.8 L899.6,429.6 L900.1,424.9 L900.7,420 L901.2,411.8 L901.7,404.1 L902.3,396.3 L902.8,388.3 L903.3,380 L903.9,374 L904.5,368 L905,362.1 L905.6,355.7 L906.2,350 L906.7,340.3 L907.2,330.8 L907.8,321.6 L908.3,312 L908.8,307.7 L909.3,303.9 L909.8,299.7 L910.3,295.7 L910.8,291.1 L911.3,286.1 L911.9,281.3 L912.4,277.3 L912.9,277.2 L913.4,274.4 L913.9,272.4 L914.4,272.1 L914.9,273.3 L915.5,274.5 L916,273.4 L916.5,275.2 L917,273.6 L917.5,271.3 L918,269.9 L918.5,268.1 L919,264.7 L919.5,262.1 L920.1,261.2 L920.6,257.8 L921.1,260.2 L921.6,260.9 L922.1,262.6 L922.6,264 L923.1,262.5 L923.7,263.3 L924.2,261.4 L924.7,260.9 L925.2,260.8 L925.7,259.2 L926.3,258.1 L926.8,257.2 L927.3,254.8 L927.8,255.4 L928.3,256.1 L928.8,257.7 L929.3,258.9 L929.8,260.9 L930.3,268.7 L930.9,276.9 L931.4,285.4 L932.2,304.9 L932.8,297.8 L933.3,290.9 L933.9,283.4 L934.4,284.8 L934.9,287.5 L935.4,288.9 L935.9,289.5 L936.4,283 L936.9,277.3 L937.4,271 L937.9,265 L938.4,261.8 L939,260.7 L939.5,256.9 L940,254.8 L940.5,265 L941.1,275.3 L941.6,285.4 L942.1,276.2 L942.6,266.4 L943.1,256.8 L943.8,242.9 L944.5,229.2 L945,239.7 L945.6,250.1 L946.1,260.9 L946.6,270.4 L947.2,279.6 L947.7,288.3 L948.2,297.7 L948.7,301.2 L949.2,305.6 L949.7,309.8 L950.2,314.1 L950.7,316.1 L951.2,317 L951.8,317.6 L952.3,316.2 L952.8,319.2 L953.3,319.2 L953.8,319.4 L954.3,318.7 L954.8,319.3 L955.3,315.6 L955.8,315.4 L956.3,316.1 L956.8,318.2 L957.3,320.2 L957.9,321.1 L958.4,322.2 L958.9,319.5 L959.5,317.6 L960,315.1 L960.5,324.5 L961,333.2 L961.5,342.7 L962,338.4 L962.5,334.2 L963,330 L963.5,326.3 L964,321.9 L964.5,318.2 L965,315 L965.5,312.1 L966,310.3 L966.6,306.4 L967.1,304.9 L967.6,301.8 L968.1,295.9 L968.6,290.1 L969.1,285.4 L969.6,279.3 L970.1,277.2 L970.6,277.6 L971.2,276.1 L971.7,274.8 L972.2,271.6 L972.7,271.1 L973.2,263.4 L973.8,255.4 L974.3,248.4 L974.8,240.4 L975.4,239.5 L976,237 L976.5,233 L977,228.7 L977.5,224.4 L978.1,220.9 L978.6,216.3 L979.1,212.2 L979.6,210.4 L980.1,207.4 L980.7,205.5 L981.2,203.2 L981.7,202.5 L982.2,200 L982.7,197.7 L983.2,194.6 L983.7,193.5 L984.2,190 L984.7,187.9 L985.2,185.7 L985.7,182.5 L986.2,180.1 L986.8,178.6 L987.3,175.4 L987.8,174.7 L988.3,173.9 L988.8,175.4 L989.3,175.4 L989.8,169.1 L990.3,163.5 L990.9,156.6 L991.4,150.9 L991.9,147.2 L992.4,141.8 L992.9,138.6 L993.4,134 L993.9,129.2 L994.4,125.3 L994.9,124.2 L995.5,122.7 L996,121.6 L996.5,121.2 L997,122.9 L997.5,125.5 L998,129 L998.5,130.4 L999,134.8 L999.5,138.5 L1000,141.1 L1000.6,145.1 L1001.1,149.7 L1001.6,152.9 L1002.1,154.5 L1002.6,158.1 L1003.2,159.7 L1003.7,163.4 L1004.2,164 L1004.7,167.3 L1005.2,169.6 L1005.7,170.2 L1006.3,171.3 L1006.8,172.6 L1007.3,175.4 L1008,192 L1008.7,208.2 L1009.2,199.4 L1009.7,190.2 L1010.2,181.6 L1010.7,180.3 L1011.3,180.3 L1011.8,177.3 L1012.3,177.1 L1012.8,174.8 L1013.4,173.7 L1013.9,173.4 L1014.4,174 L1014.9,173.5 L1015.4,171.2 L1015.9,170.5 L1016.4,170.1 L1016.9,171.3 L1017.4,171.6 L1017.9,170.9 L1018.5,169.9 L1019,169.5 L1019.5,170.9 L1020,170.3 L1020.5,166.3 L1021,162.2 L1021.5,157.7 L1022.1,152.9 L1022.6,148.5 L1023.1,144.8 L1023.7,140.6 L1024.3,135.7 L1024.9,131.6 L1025.5,126.2 L1026.1,122.3 L1026.6,125 L1027.1,126.1 L1027.6,129.1 L1028.1,131.2 L1028.6,132.5 L1029.1,134.5 L1029.7,135.6 L1030.2,138.6 L1030.8,133.2 L1031.3,127 L1031.9,121.2 L1032.6,129.8 L1033.3,137.6 L1033.8,136.1 L1034.3,135.1 L1034.8,136.3 L1035.3,134.5 L1035.8,138.9 L1036.3,143.3 L1036.9,148.1 L1037.4,152.9 L1037.9,159.1 L1038.4,164.7 L1038.9,171.4 L1039.4,177.5 L1039.9,179.4 L1040.5,181.6 L1041,182.9 L1041.5,185.7 L1042,190 L1042.5,194.3 L1043,198.4 L1043.5,202 L1044,207.4 L1044.6,213.4 L1045.1,218.7 L1045.7,224.7 L1046.2,230 L1046.7,234.1 L1047.3,239.7 L1047.8,243.8 L1048.3,247.9 L1048.8,250.7 L1049.4,254.2 L1049.9,257.7 L1050.4,261.1 L1050.9,264.3 L1051.4,266.6 L1052,271.2 L1052.5,273.1 L1053,276.7 L1053.5,278.5 L1054,280.8 L1054.6,283.5 L1055.1,287 L1055.6,288.8 L1056.2,290.9 L1056.7,293.9 L1057.3,297.5 L1057.8,298.6 L1058.3,297.1 L1058.9,296.7 L1059.4,299.2 L1059.9,299.2 L1060.4,302.3 L1060.9,305.1 L1061.5,308.4 L1062,310.3 L1062.5,313.9 L1063,314.1 L1063.5,312.8 L1064.1,310 L1064.6,309.4 L1065.1,309.6 L1065.7,308.3 L1066.2,307 L1066.8,305.1 L1067.4,303.4 L1067.9,302.9 L1068.5,301.8 L1069,302.5 L1069.5,305.1 L1070.1,307.3 L1070.6,307.2 L1071.1,309.6 L1071.6,311.7 L1072.2,314 L1072.7,314.8 L1073.2,317.4 L1073.7,316 L1074.2,314.3 L1074.8,311.1 L1075.3,309.2 L1075.8,308 L1076.3,305.3 L1076.8,307.6 L1077.3,309.6 L1077.9,312.9 L1078.4,314.8 L1078.9,316.5 L1079.4,316.9 L1079.9,317.5 L1080.5,318.6 L1081,319.8 L1081.5,320.8 L1082,323.1 L1082.5,323.4 L1083.1,324.6 L1083.6,325.2 L1084.1,325.2 L1084.7,330.6 L1085.2,334.5 L1085.8,340 L1086.3,344.2 L1086.9,349 L1087.5,353.1 L1088,356.7 L1088.5,359.7 L1089,363.3 L1089.5,366.9 L1090,369.9 L1090.5,373.5 L1091,376.2 L1091.5,380.1 L1092,383.5 L1092.5,387.5 L1093,390.9 L1093.5,395.1 L1094,400.2 L1094.5,403.9 L1095,408.1 L1095.5,411.8 L1096,415.6 L1096.5,418.8 L1097,421.6 L1097.5,424.3 L1098,425.5 L1098.5,429.2 L1099,431.3 L1099.5,434.6 L1100,437 L1100.5,435.5 L1101.1,435.5 L1101.6,435.9 L1102.2,434.2 L1102.7,433 L1103.2,433 L1103.8,434.7 L1104.3,435.2 L1104.9,437.6 L1105.4,437 L1105.9,437.1 L1106.4,437.9 L1106.9,439.7 L1107.4,438.8 L1107.9,441 L1108.4,442.8 L1108.9,442.2 L1109.4,442.2 L1109.9,443.6 L1110.4,442.6 L1110.9,441.8 L1111.4,439.8 L1111.9,438.8 L1112.4,437.8 L1112.9,437.4 L1113.4,437 L1113.9,435.1 L1114.4,433.2 L1114.9,431.4 L1115.4,429.4 L1115.9,428.7 L1116.4,427.7 L1116.9,425.5 L1117.4,423.6 L1117.9,422.7 L1118.5,421.9 L1119,419.5 L1119.6,419.9 L1120.1,418.2 L1120.6,418.6 L1121.2,419.4 L1121.7,420.2 L1122.3,420.3 L1122.8,420.9 L1123.3,418.1 L1123.9,415.6 L1124.4,413.2 L1125,411.3 L1125.5,408.9 L1126,410.2 L1126.5,412.3 L1127.1,412.6 L1127.6,415 L1128.1,416.9 L1128.6,418.2 L1129.1,415.5 L1129.6,416.6 L1130.1,416.2 L1130.6,415.2 L1131.1,417.9 L1131.6,414.9 L1132.1,415.6 L1132.6,417.6 L1133.1,417.4 L1133.6,418.6 L1134.1,421.9 L1134.6,422.1 L1135.1,422.6 L1135.6,424.7 L1136.1,426.3 L1136.6,427.5 L1137.1,429.6 L1137.6,429.3 L1138.2,431 L1138.7,434.1 L1139.2,434.9 L1139.7,434.8 L1140.2,437 L1140.7,437.6 L1141.2,438.7 L1141.8,440.7 L1142.3,441.6 L1142.8,442.3 L1143.5,449.4 L1144.2,455.7 L1144.7,454.8 L1145.2,452.5 L1145.8,451.4 L1146.3,449.8 L1146.8,447.6 L1147.3,449.8 L1147.9,450.8 L1148.4,453.1 L1149,454.6 L1149.5,455.7 L1150,458.3 L1150.5,458.2 L1151,461.5 L1151.6,461.3 L1152.1,464.6 L1152.6,465.7 L1153.2,468.7 L1153.7,471.5 L1154.3,474.4 L1154.8,479.3 L1155.3,483.1 L1155.9,487.3 L1156.4,492 L1156.9,496 L1157.4,492.1 L1157.9,487.5 L1158.5,482.9 L1159,478.7 L1159.5,474.4 L1160,470.9 L1160.5,467.8 L1161.1,463.7 L1161.6,460.4 L1162.1,457.1 L1162.6,454.4 L1163.1,451.4 L1163.7,448.5 L1164.2,446.5 L1164.7,443.3 L1165.6,431.1 L1166.2,436.7 L1166.7,441.5 L1167.3,446.7 L1168.2,431.1 L1169,462.3 L1169.6,456.5 L1170.2,450.4 L1170.8,445 L1171.4,445.6 L1171.9,446.3 L1172.5,448.7 L1173.1,449.8 L1173.6,449.6 L1174.2,451.9 L1174.7,452 L1175.2,449.3 L1175.8,449.7 L1176.3,448.7 L1176.8,446.7 L1177.3,446.8 L1177.8,443.7 L1178.3,443.2 L1178.8,443.3 L1179.3,439.8 L1179.8,438.8 L1180.3,438.9 L1180.9,441.6 L1181.4,444.1 L1182,446.7 L1182.5,448.5 L1183,447.9 L1183.6,446.9 L1184.1,448.9 L1184.6,446.7 L1185.2,445 L1185.7,443.3 L1186.3,441.5 L1186.8,441.6 L1187.3,440.2 L1187.8,439.6 L1188.3,439.9 L1188.8,438.6 L1189.3,440.1 L1189.8,438.1 L1190.3,439 L1190.8,438.5 L1191.4,437 L1191.9,438.2 L1192.4,438.9 L1192.9,437.1 L1193.4,435.9 L1194,434.4 L1194.5,433.5 L1195,431.1 L1195.6,427.7 L1196.1,423 L1196.7,419 L1197.2,418.4 L1197.7,418.8 L1198.3,419.8 L1198.8,417.1 L1199.3,417.3 L1199.8,416.3 L1200.3,416.1 L1200.9,413.3 L1201.4,412.6 L1201.9,412.1 L1202.4,414.2 L1202.9,413.7 L1203.4,412.5 L1203.9,411 L1204.4,414.4 L1204.9,413.6 L1205.4,413 L1205.9,414.8 L1206.4,416.2 L1207,416.7 L1207.5,416.2 L1208,417.3 L1208.6,415.2 L1209.1,414.4 L1209.7,413.8 L1210.3,417.3 L1210.8,420.7 L1211.4,424.2 L1212,424.5 L1212.5,425.7 L1213.1,427.7 L1213.7,430.8 L1214.3,433.6 L1214.9,436.3 L1215.5,440.1 L1216,445.1 L1216.6,448.4 L1217.5,472.7 L1218,473.3 L1218.5,470.7 L1219.1,472.3 L1219.6,474 L1220.1,472.7 L1220.6,472.8 L1221.1,474.7 L1221.7,473.2 L1222.2,474.8 L1222.7,476.1 L1223.2,478.9 L1223.7,480.4 L1224.3,482.7 L1224.8,483.8 L1225.3,486.5 L1225.8,486.2 L1226.3,486 L1226.9,484.6 L1227.4,485.7 L1227.9,484.8 L1228.4,486.8 L1228.9,489.6 L1229.4,490.7 L1229.9,492.2 L1230.4,494.3 L1231,489.3 L1231.6,484.8 L1232.1,481 L1232.7,476.1 L1233,503.8 L1233.6,499.2 L1234.2,495.2 L1234.8,491.7 L1235.4,491.6 L1235.9,493.5 L1236.5,494.3 L1236.5,570 L32.6,570 Z" fill="rgb(180,255,200)" fill-opacity="0.15" stroke="none"/>
<path d="M32.6,414.7 L32.9,482.6 L33.5,481.1 L34.1,479.6 L34.7,479.6 L35.2,480.8 L35.7,479.8 L36.2,481.9 L36.7,481.2 L37.2,480 L37.7,479.6 L38.2,479.8 L38.7,482.2 L39.2,483.4 L39.8,481.4 L40.3,482.7 L40.9,481.1 L41.4,482.6 L41.9,482.8 L42.4,484.9 L42.9,486.3 L43.4,488.2 L43.9,487.3 L44.4,489.3 L45,487.6 L45.5,487.8 L46.1,487.9 L46.7,485.6 L47.4,486.6 L48.1,487.1 L48.6,485.4 L49.1,485.2 L49.6,482.6 L50.2,484.8 L50.7,488.6 L51.3,485.4 L51.9,481.1 L52.6,456.5 L53.1,493.1 L53.7,487.8 L54.3,482.7 L54.9,478.1 L55.5,477.7 L56,479 L56.5,481.3 L57.1,481.1 L57.6,481.2 L58.1,483.3 L58.6,484.1 L59.1,481.3 L59.6,477.9 L60.1,475.1 L60.6,476.5 L61.1,476.5 L61.6,478.9 L62.1,476.8 L62.6,476.5 L63.1,476.6 L63.8,474.8 L64.6,472.2 L65.1,468.6 L65.6,464.9 L66.1,461.7 L66.7,457.7 L67.2,453.4 L67.8,449.1 L68.4,445.3 L68.9,442.6 L69.5,439.3 L70,435.4 L70.5,432.8 L71,429.5 L71.5,426.9 L72.1,423.5 L72.6,420 L73.2,416.3 L73.7,414.1 L74.3,409.4 L74.8,406.5 L75.4,403.3 L75.9,400.6 L76.5,396.5 L77,393.9 L77.6,390 L78.1,387.9 L78.7,384.9 L79.2,381.3 L79.7,378.5 L80.2,376 L80.8,372.2 L81.3,369.9 L81.8,366.8 L82.3,363.8 L82.9,360.7 L83.4,358.4 L83.9,354.9 L84.4,352.8 L84.9,349.2 L85.4,346.6 L86,342.8 L86.5,341 L87,338.1 L87.5,335 L88,333.1 L88.5,330 L89,326.4 L89.5,323.8 L90,321.5 L90.5,317.7 L91,315.7 L91.5,313 L92,309.8 L92.5,307 L93,304.2 L93.5,302.7 L94,298.9 L94.5,296.4 L95,294 L95.5,292.1 L96,288.8 L96.5,285.4 L97,283.4 L97.5,281 L98,278.9 L98.5,275.6 L99.1,273.3 L99.6,270.5 L100.2,266.7 L100.7,264.1 L101.3,261.1 L101.8,259.2 L102.4,255.7 L102.9,253.7 L103.5,249.6 L104,246.9 L104.6,244.2 L105.1,241.5 L105.6,239.2 L106.2,236.6 L106.7,233.7 L107.2,230.6 L107.8,227.5 L108.3,225.6 L108.9,222.9 L109.4,220.6 L109.9,218.7 L110.5,215.6 L111,212.6 L111.6,210.1 L112.1,207.3 L112.7,204.3 L113.2,199.9 L113.8,198 L114.4,194 L114.9,193 L115.4,191.5 L115.9,189.7 L116.4,187.4 L117,184.3 L117.5,181.4 L118.1,177.9 L118.6,175.9 L119.2,172 L119.7,169.8 L120.3,165.8 L120.8,162.7 L121.4,159.4 L122,156.3 L122.5,152.6 L123.1,150 L123.6,145.7 L124.2,142.3 L124.8,138.7 L125.3,135.5 L125.9,131.4 L126.4,128.5 L127,128.4 L127.5,126.6 L128.1,124.2 L128.6,123.4 L129.1,122.6 L129.7,121.9 L130.2,120.4 L130.8,118.6 L131.3,119.5 L131.9,117.4 L132.5,100 L133,87.7 L133.6,95.3 L134.1,102 L134.7,97.9 L135.3,93.9 L135.9,89.9 L136.4,93 L136.9,96.7 L137.4,100.9 L137.9,100.6 L138.5,100.5 L139.1,103 L139.6,102 L140.2,102.8 L140.8,104.2 L141.3,108 L141.9,108.6 L142.4,109.9 L142.9,110.1 L143.5,112.3 L144,113.4 L144.5,115.9 L145.1,119.8 L145.6,123.8 L146.2,126.8 L146.7,129.4 L147.2,132.9 L147.8,135.5 L148.3,138.8 L148.9,141.8 L149.4,145.5 L150,149.9 L150.6,153.5 L151.2,157.5 L151.7,159.7 L152.2,160.2 L152.7,161.5 L153.2,164.3 L153.7,166.3 L154.2,167.5 L154.7,168.2 L155.2,170.6 L155.7,172.3 L156.2,173.9 L156.7,174.5 L157.2,176.8 L157.7,178.2 L158.2,180.2 L158.7,183.3 L159.3,187 L159.8,191.1 L160.4,194.8 L160.9,198.9 L161.4,202.3 L162,205.9 L162.5,208.2 L163,212.1 L163.6,215.3 L164.1,217.6 L164.6,221.3 L165.1,223.4 L165.6,226.2 L166.1,229.2 L166.6,232.2 L167.1,235.2 L167.6,238.9 L168.1,241.7 L168.6,245.3 L169.2,248.1 L169.7,250.4 L170.2,253.6 L170.8,256.8 L171.3,258.5 L171.9,262.4 L172.4,265 L172.9,268.4 L173.4,270.9 L173.9,273.5 L174.4,275.8 L175,278 L175.5,281.7 L176,283.6 L176.5,287.1 L177,289.3 L177.5,292.9 L178.1,294.8 L178.6,297.6 L179.1,301.4 L179.6,303.9 L180.1,305.8 L180.7,308.5 L181.2,312 L181.7,313.4 L182.3,317.1 L182.8,319 L183.3,319.8 L183.9,323.3 L184.4,325.7 L185,327.2 L185.5,329 L186,330 L186.6,331.9 L187.1,332.3 L187.6,333.5 L188.1,337.2 L188.6,337.8 L189.2,339 L189.7,340.3 L190.2,343 L190.8,343.7 L191.3,346.4 L191.8,348.1 L192.4,348.5 L192.9,350.4 L193.5,352.3 L194,354.5 L194.5,355.4 L195,357.8 L195.6,358.6 L196.1,360.5 L196.6,361.4 L197.1,364.7 L197.6,365 L198.1,366.8 L198.7,368.6 L199.2,370.9 L199.7,371.5 L200.2,373.3 L200.8,376.2 L201.3,377.3 L201.8,379.3 L202.3,381.2 L202.8,382.1 L203.4,384.9 L203.9,387 L204.4,387.3 L204.9,388 L205.5,391.2 L206,391.6 L206.6,392.3 L207.1,394.5 L207.7,396.6 L208.2,397.6 L208.8,398.5 L209.3,400.4 L209.9,403.2 L210.4,406 L210.9,409.2 L211.5,411.4 L212.1,411.7 L212.6,414.2 L213.2,414.7 L213.7,416.1 L214.3,418 L214.9,422 L215.4,425.2 L215.9,428.9 L216.5,432.4 L217,438.5 L217.6,444.6 L218.1,450 L218.7,444.2 L219.2,438.6 L219.8,432.7 L220.3,426.9 L220.9,421.4 L221.4,416 L222,410.3 L222.6,413.2 L223.1,416.4 L223.6,419.3 L224.2,422.4 L224.7,425.5 L225.3,427.2 L225.8,429 L226.4,430.2 L226.9,430.2 L227.4,427.3 L228,428 L228.6,420.3 L229.1,412.5 L229.7,409.6 L230.2,405.9 L230.8,401.2 L231.3,398.2 L231.9,385.8 L232.5,373.9 L233.1,361.8 L233.6,351.8 L234.1,342.4 L234.7,341.3 L235.4,340.5 L236,342.4 L236.5,343.4 L237,344.1 L237.5,343.4 L238.4,335.2 L238.9,337.6 L239.4,337.2 L239.9,339.5 L240.5,341.9 L241.1,343.8 L241.7,344.6 L242.3,347.3 L242.8,344.1 L243.3,340.5 L243.8,336.1 L244.7,354.1 L245.2,353.6 L245.7,356.6 L246.2,355.2 L246.7,356 L247.4,356.7 L248.1,357.5 L248.6,361.5 L249.1,364.5 L249.6,366.7 L250.1,370.5 L250.8,366 L251.5,361.8 L252,356 L252.5,350 L253,344.4 L253.9,358.9 L254.4,358.6 L254.9,359.7 L255.4,360.9 L256,362.3 L256.7,360.5 L257.3,362.8 L257.8,362.5 L258.3,361.6 L258.8,359.7 L259.3,360.9 L260,359.4 L260.7,358.9 L261.2,357.9 L261.7,356.3 L262.2,355 L263.1,358.9 L263.6,356.8 L264.1,358.9 L264.6,357.6 L265.1,356 L265.7,357.2 L266.3,353.6 L266.9,353.7 L267.5,354.1 L268.1,353.7 L268.7,356.8 L269.3,356.3 L269.9,357.9 L270.5,358.1 L271.1,360 L271.6,362.6 L272.2,363.5 L272.8,363.8 L273.4,364.1 L274,364.7 L274.5,367.9 L275.1,367.8 L275.7,368.6 L276.3,370 L276.9,368.9 L277.4,369.6 L278,372.3 L278.6,372.5 L279.1,372.3 L279.6,371 L280.1,374.7 L280.6,373 L281.2,373.1 L281.8,373.4 L282.4,370.3 L283,371.5 L283.6,370.4 L284.3,366.6 L284.9,365.7 L285.5,366.8 L286.1,364.9 L286.6,364.2 L287.2,364.7 L287.8,364.2 L288.3,363.6 L288.8,360.5 L289.3,358.6 L289.8,357.9 L290.4,355 L291,351.6 L291.6,348.5 L292.2,346.3 L292.7,347.2 L293.2,348.6 L293.7,351.2 L294.4,354 L295.1,357.9 L295.6,355.6 L296.1,353.6 L296.6,352.1 L297.3,352.3 L298,350.7 L298.5,351.3 L299,353 L299.5,354.1 L300.1,356.7 L300.7,360.1 L301.3,362.7 L301.9,366.7 L302.5,368.1 L303.2,369.5 L303.8,372.5 L304.4,376.6 L305,379.9 L305.5,382.8 L306.1,385 L306.6,388.3 L307.1,391.2 L307.8,396.4 L308.5,400.4 L309,399.9 L309.6,402.8 L310.1,402.3 L310.6,403.2 L311.3,404.3 L312,405.4 L312.5,408.5 L313.1,410.2 L313.6,412.8 L314.1,415.3 L314.7,419.1 L315.2,423.1 L315.8,425.6 L316.3,429.4 L316.8,434.1 L317.4,438.2 L317.9,442.3 L318.4,446.4 L318.9,445.7 L319.4,445.1 L320,443.7 L320.5,445 L321.1,443.1 L321.6,442.2 L322.2,443.6 L322.7,441.3 L323.3,441.4 L323.9,435.1 L324.6,429.1 L325.2,423.7 L325.5,450.6 L326,448 L326.6,444.8 L327.1,441.3 L327.6,437.9 L328.1,436.8 L328.6,436.3 L329.2,436.1 L329.7,436.5 L330.4,446.4 L330.9,442.8 L331.4,438.8 L332,435.7 L332.5,432.2 L333.1,429.6 L333.6,428.9 L334.1,426.8 L334.7,423.7 L335.4,416.7 L336.1,409.6 L336.6,421.5 L337.1,433.6 L337.6,423.3 L338.2,412.4 L338.9,405.5 L339.6,399 L340.3,413.4 L341,428 L341.7,424.2 L342.4,422.3 L342.9,423.8 L343.5,425.8 L344.1,427.6 L344.6,429.4 L345.1,430.9 L345.6,433.7 L346.2,434.8 L346.7,437.9 L347.3,437.5 L347.8,437.3 L348.4,438.8 L348.9,437.9 L349.5,440 L350.1,438.9 L350.6,440.5 L351.2,440.8 L351.7,442.5 L352.3,442.8 L352.9,441.7 L353.4,441 L353.9,439.5 L354.5,437.9 L355,434.9 L355.6,431.8 L356.1,427.7 L356.6,424.5 L357.1,421.2 L357.6,419.2 L358.2,414.9 L358.7,412.4 L359.2,408.8 L359.8,404.8 L360.3,400.2 L360.8,396.9 L361.3,394 L361.9,390.7 L362.4,387 L362.9,383.4 L363.6,393.3 L364.2,393.1 L364.7,392.5 L365.2,389.6 L365.8,389.8 L366.3,389.8 L366.8,389.6 L367.3,390.9 L367.8,390.7 L368.3,390.7 L368.8,389.5 L369.3,389.1 L369.9,390.8 L370.4,390.1 L371,390.3 L371.5,388.6 L372.1,389.8 L372.7,387.7 L373.3,387.6 L373.8,388 L374.4,386.7 L375,387.7 L375.5,388.2 L376,386.7 L376.5,386.3 L377,385.6 L377.5,385.2 L378,384 L378.5,383.4 L379,380.8 L379.6,381.3 L380.1,379.8 L380.6,377.8 L381.1,380.1 L381.6,382.5 L382.2,385 L382.7,387 L383.2,389.1 L383.8,393.1 L384.3,395 L384.9,398.3 L385.5,400 L386,402.9 L386.6,406.3 L387.1,407.9 L387.7,411 L388.4,420.4 L389.1,429.4 L389.8,435 L390.5,439.3 L391.2,440.7 L391.9,442.1 L392.4,440.8 L392.9,440.2 L393.4,439.3 L394.1,452 L394.6,451.9 L395.1,451.4 L395.7,450.3 L396.2,449.2 L396.8,448.7 L397.5,446 L398.1,446.3 L398.7,446.2 L399.3,447.5 L399.9,449.9 L400.5,450.2 L401.1,450.1 L401.7,451.6 L402.3,450.3 L402.9,452.6 L403.4,457.4 L403.9,462.8 L404.4,468.3 L404.9,473.7 L405.5,479 L406,484 L406.6,485.7 L407.2,485.8 L407.8,487.6 L408.4,488.7 L408.9,493.4 L409.4,498.1 L409.9,502.9 L410,502.9 L410.7,501.9 L410.7,517 L411.1,503.9 L411.4,502.9 L411.4,502.1 L411.8,504.1 L412.1,504 L412.5,501.8 L412.8,503.4 L413.2,504.8 L413.2,505 L413.5,505.7 L413.9,504.8 L413.9,493.5 L414.2,504.8 L414.6,505.1 L414.6,505 L414.9,506.9 L415.3,504.5 L415.6,505 L416,503.4 L416.3,503.9 L416.7,504.5 L417,501.9 L417.4,503.8 L417.7,503 L417.9,503.2 L418.1,504.1 L418.4,503.7 L418.6,495 L418.7,503.3 L418.8,502.5 L419.1,504.3 L419.3,503.2 L419.4,510.8 L419.5,503.3 L419.8,502.1 L420.1,503.3 L420.2,502.1 L420.5,503.5 L420.9,503.4 L421.2,503.1 L421.6,502.7 L421.9,503.2 L422.3,502.9 L422.6,504.1 L423,501.8 L423.3,503.5 L423.7,503.6 L424,501.5 L424.4,503.5 L424.7,502.7 L425.1,503 L425.4,501.3 L425.8,501.3 L426.1,501.2 L426.5,502.8 L426.8,503.5 L427.2,504.6 L427.5,506.5 L427.9,507.9 L428.2,507.8 L428.6,507.6 L428.9,509.2 L429.3,507.4 L429.6,508.7 L430,506.6 L430.3,506.3 L430.7,506.6 L431,505.4 L431.4,505.7 L431.7,507.4 L432.1,507.3 L432.4,507.2 L432.8,506.9 L433.1,507.7 L433.5,507.9 L433.8,507 L434.2,507.6 L434.5,506 L434.9,507.8 L435.2,507.2 L435.6,508.1 L435.9,508 L436.3,507.2 L436.6,506.7 L437,509.1 L437.3,507.1 L437.7,508.1 L438,507.9 L438.4,507.9 L438.7,509.2 L439.1,509.9 L439.4,508.2 L439.8,509.3 L440.1,508.5 L440.5,509.3 L440.8,509.3 L441.2,509.4 L441.5,510.1 L441.9,510.9 L442.2,513.4 L442.6,512.3 L442.9,511.5 L443.3,513.2 L443.6,513.4 L444,512 L444.3,511.1 L444.7,511.2 L445,510.9 L445.4,511.5 L445.7,510.8 L445.9,511.8 L446,511.8 L446.1,511.2 L446.4,511.2 L446.6,498.7 L446.7,519.1 L446.8,511.9 L447.1,512.7 L447.3,511.8 L447.4,511.8 L447.5,512.3 L447.8,511.4 L448.2,511.4 L448.5,511.6 L448.9,511.2 L449.2,511 L449.6,510.3 L449.9,510.8 L450.3,512.4 L450.6,510.1 L451,511 L451.3,511.2 L451.7,511.7 L451.9,510.4 L452,510.4 L452,509.9 L452.4,509.9 L452.6,504.6 L452.7,516.2 L452.7,509.7 L453.1,510 L453.3,510.4 L453.4,510.4 L453.4,510 L453.8,511.2 L454.1,510.8 L454.5,510.7 L454.8,508.4 L455.2,508.3 L455.5,509.9 L455.9,510.7 L456.2,509.9 L456.6,510.4 L456.9,509.1 L457.3,510.4 L457.6,512.1 L458,512.1 L458.3,512.4 L458.7,513 L459,511.3 L459.4,511.2 L459.7,511.4 L460.1,512.4 L460.4,512.9 L460.8,513.6 L461.1,513.1 L461.5,512.9 L461.8,513.3 L462.2,512.5 L462.5,512.8 L462.6,512.8 L462.9,511.5 L463.2,513.5 L463.3,498.7 L463.6,512.1 L463.6,512.9 L463.9,514 L464,512.8 L464.3,513.3 L464.3,533.7 L464.6,512.5 L465,512 L465,512.9 L465.3,512.4 L465.7,513.5 L466,513.7 L466.4,512.2 L466.7,512.1 L467.1,513.3 L467.4,513.4 L467.8,512.8 L468.1,512.2 L468.5,513.1 L468.8,511.4 L469.2,512 L469.5,512.3 L469.9,513.5 L470.2,512.5 L470.6,513 L470.9,511.8 L471.3,511.2 L471.6,511.5 L472,513.5 L472.3,513.1 L472.7,512.3 L473,511.8 L473.4,513.2 L473.7,513.9 L474.1,513.5 L474.4,513.3 L474.8,514.6 L475.1,515.4 L475.5,513.6 L475.8,513.1 L476.2,513.9 L476.5,514.1 L476.9,514.8 L477.2,513.5 L477.6,515.1 L477.9,514.9 L478.3,514.3 L478.6,513.5 L479,515.5 L479.3,513.8 L479.7,515.1 L480,513.6 L480.4,513.6 L480.7,515 L481.1,513.8 L481.4,515.6 L481.8,514.4 L482.1,513.7 L482.5,513.8 L482.8,514.3 L483.2,515 L483.5,515.8 L483.9,513.8 L484.2,514.5 L484.6,514 L484.9,516.2 L485.3,514.4 L485.6,514.5 L486,514.9 L486.3,516.1 L486.7,517.8 L487,518.1 L487.4,518.1 L487.7,519.1 L488.1,519.3 L488.4,518.1 L488.8,518 L489.1,520.3 L489.5,520.2 L489.8,517.9 L490.2,519 L490.5,517.6 L490.9,517 L491.2,516.3 L491.6,515.3 L491.9,514.3 L492.3,514.5 L492.6,514.4 L493,515.9 L493.3,513.7 L493.7,515.8 L494,513.8 L494.4,514.2 L494.7,515.3 L495.1,515.3 L495.4,514.2 L495.8,513.2 L496.1,514.3 L496.5,514.1 L496.8,515.9 L497.2,514.4 L497.5,515.1 L497.9,516.9 L498.2,515 L498.6,516.3 L498.9,517.7 L499.3,517.9 L499.6,516.4 L500,516.7 L500.3,517.2 L500.7,519.8 L501,518.6 L501.4,520.3 L501.7,521.1 L502.1,520.1 L502.4,520.3 L502.8,522.5 L502.9,522.4 L503.1,522.1 L503.5,521.6 L503.6,508.4 L503.8,523.2 L504.2,522.5 L504.3,522.4 L504.5,522 L504.9,521 L505.2,522.6 L505.6,522.6 L505.9,521.5 L506.3,522 L506.6,519.3 L507,519.5 L507.3,519.7 L507.7,520.6 L508,520.3 L508.4,518.8 L508.7,518.4 L509.1,518.8 L509.4,519 L509.8,520.1 L510.1,518.1 L510.5,519.7 L510.8,519.5 L511.1,518.8 L511.2,519.7 L511.2,518.8 L511.5,519.6 L511.8,513.3 L511.9,519.1 L511.9,526.9 L512.2,518.4 L512.5,518.8 L512.6,518.3 L512.6,518.8 L512.9,518.4 L513.1,518.7 L513.3,519.5 L513.6,517.6 L513.8,519.1 L514,517.9 L514.3,519.3 L514.5,518.7 L514.7,518 L515,517.5 L515.4,517.4 L515.7,518.7 L516.1,518.1 L516.4,519.8 L516.8,519.5 L516.9,518.5 L517,518.5 L517.1,519.8 L517.5,517.9 L517.6,513.3 L517.7,535.1 L517.8,517.4 L518.2,517.4 L518.3,518.5 L518.4,518.5 L518.5,518.4 L518.9,518.9 L519.2,518.2 L519.6,517.6 L519.9,518.1 L520.3,518.6 L520.6,518.7 L521,518.9 L521.3,519.1 L521.7,518.7 L522,517.5 L522.4,519.7 L522.7,518.5 L523.1,519.5 L523.4,519.3 L523.8,520.5 L524.1,519.4 L524.5,519.8 L524.8,520.1 L525.2,520.1 L525.2,521.6 L525.5,522.3 L525.9,521.8 L525.9,501.7 L526.2,521.4 L526.6,521.5 L526.6,521.6 L526.9,522.6 L527.3,520.9 L527.6,519.7 L528,520.7 L528.3,519.9 L528.7,520.3 L529,517.5 L529.4,518 L529.6,516.8 L529.7,518.5 L530.1,518 L530.1,516.2 L530.3,508.4 L530.4,517.8 L530.8,515 L530.8,521.1 L531,516.8 L531.1,515.2 L531.5,514.3 L531.5,516.2 L531.8,514 L532.2,515.6 L532.5,514.1 L532.9,514.6 L533.2,512.7 L533.6,513.5 L533.9,511.9 L534.3,511 L534.4,510.5 L534.6,511.9 L535,511.8 L535.1,504.6 L535.3,509.2 L535.4,509.1 L535.7,510 L535.8,510.5 L536,509.6 L536.1,519.1 L536.4,508.1 L536.7,508 L536.8,509.1 L537.1,507 L537.4,506.7 L537.8,506.3 L538.1,506.8 L538.5,507.2 L538.8,506.3 L539.2,506 L539.5,507.1 L539.9,508.3 L540.2,507.3 L540.6,507.9 L540.9,507.9 L541.3,509.7 L541.6,509.3 L542,508.3 L542.3,508.7 L542.7,509.7 L543,510.4 L543.4,510.9 L543.7,509.8 L544.1,510.2 L544.4,511.9 L544.8,511.4 L545.1,511.4 L545.5,511.7 L545.8,513.7 L546.2,512.3 L546.5,513.2 L546.9,513 L547.2,513.4 L547.6,514.9 L547.9,515.5 L548.3,514.2 L548.5,515.3 L548.6,514 L549,515.7 L549.2,528.8 L549.3,514.6 L549.5,516.1 L549.7,514.4 L549.9,515.3 L550,517 L550.2,502.6 L550.4,516.1 L550.7,517.4 L550.9,516.1 L551.1,516.6 L551.4,518.1 L551.8,517.3 L552.1,516.8 L552.5,516.7 L552.8,518.4 L553.2,518.9 L553.5,519.9 L553.9,518.1 L553.9,519.8 L554.2,519.8 L554.6,519.4 L554.6,528.8 L554.9,520 L555.3,519.4 L555.3,519.8 L555.5,521.1 L555.6,520.1 L556,521 L556.2,506.2 L556.3,522.3 L556.7,520.5 L556.9,521.1 L557,521.7 L557.4,522.7 L557.7,523.3 L558.1,521.5 L558.4,521.5 L558.8,523.7 L559.1,524 L559.5,522.9 L559.8,521.9 L560.2,524.4 L560.5,523.2 L560.9,524.7 L561.2,524.1 L561.6,524.8 L561.9,523.3 L562.3,525.1 L562.6,523.8 L563,524.3 L563,524 L563.3,525.2 L563.7,524.9 L563.7,512.9 L564,523.3 L564,523 L564.4,522.8 L564.4,524 L564.7,529.4 L564.7,523.1 L565.1,523.1 L565.4,523.3 L565.4,522.5 L565.8,521.6 L565.9,522 L566.1,521.7 L566.5,522.7 L566.6,517.8 L566.8,522.9 L567.2,520.5 L567.3,522 L567.5,521.6 L567.9,521.9 L568.2,519.8 L568.6,521.6 L568.9,519.3 L569.3,520.1 L569.6,519.5 L569.8,518.1 L570,519.2 L570.3,517.9 L570.5,526.5 L570.7,517.7 L571,517.7 L571.2,518.1 L571.4,516.8 L571.7,517.2 L572.1,516.5 L572.4,516.5 L572.8,515.3 L573.1,516.8 L573.5,516.4 L573.7,516.2 L573.8,515.6 L574.2,516.9 L574.4,511 L574.5,516.9 L574.9,516 L575.1,516.2 L575.2,515.2 L575.6,515.9 L575.9,514.8 L576.3,514.8 L576.6,515.4 L577,514.4 L577.3,515.1 L577.7,515.2 L578,513.8 L578.4,515.3 L578.7,514 L579.1,515.9 L579.4,516.3 L579.8,515.8 L580.1,514.8 L580.5,516.2 L580.8,516 L581.2,517.4 L581.5,515.1 L581.9,516.9 L582.2,517.2 L582.4,515.7 L582.6,516.4 L582.9,516.5 L583.1,501.3 L583.3,514.8 L583.4,515.4 L583.6,516.8 L583.8,515.7 L584,515.4 L584.1,536.2 L584.3,516.5 L584.7,516.3 L584.8,515.4 L585,514.3 L585.4,515.8 L585.7,516.1 L586.1,513.8 L586.4,515.1 L586.8,516.7 L587.1,515.6 L587.5,518 L587.8,516.9 L588.2,518.8 L588.5,517.3 L588.9,518.6 L589.2,519.9 L589.6,518.4 L589.7,519.9 L589.9,518.9 L590.3,519.8 L590.4,500.3 L590.6,519.6 L591,519.2 L591.1,519.9 L591.3,519.9 L591.7,519.4 L592,521.1 L592.4,520 L592.7,520.2 L593.1,517.9 L593.1,518 L593.4,519.1 L593.8,517 L593.8,508.1 L594.1,517.7 L594.5,517.6 L594.5,518 L594.8,516.5 L595.2,517.5 L595.5,516.3 L595.9,516.2 L596.2,517 L596.6,515.1 L596.9,517.6 L597.3,516.7 L597.6,516.2 L598,517.4 L598.3,516.1 L598.7,518.1 L599,517.1 L599.4,516.6 L599.7,517.7 L600.1,516.9 L600.4,516.3 L600.8,517.8 L601.1,516.1 L601.5,518.1 L601.8,516.5 L602.2,517.4 L602.5,518.1 L602.9,516.9 L603.2,517 L603.6,515.9 L603.9,515 L604.3,514.9 L604.6,515 L604.7,515.6 L605,516.1 L605.3,515.5 L605.4,509.1 L605.7,515.5 L605.7,515.2 L606,516.4 L606.1,515.6 L606.4,514.2 L606.4,520.7 L606.7,514.3 L607.1,515.3 L607.1,515.2 L607.4,513.5 L607.8,513.3 L608.1,514 L608.5,513.2 L608.8,513.7 L609.2,513.2 L609.5,514 L609.9,513.9 L610.2,512.7 L610.6,513.6 L610.9,513 L611.3,512 L611.6,513.9 L612,511.9 L612.3,511.5 L612.7,511.2 L613,512.4 L613.4,513 L613.7,512.9 L614.1,512 L614.4,511.8 L614.8,511.2 L615.1,513 L615.5,512.8 L615.8,512.4 L616.2,513.3 L616.3,513.1 L616.5,512.8 L616.9,514.2 L617,514.9 L617.2,513.8 L617.6,512.6 L617.7,513.1 L617.9,514.4 L618.3,512.3 L618.6,513.7 L619,513.4 L619.3,513.1 L619.7,512.7 L619.7,514.1 L620,514.7 L620.4,512.8 L620.4,528.4 L620.7,514.3 L621.1,515.4 L621.1,514.1 L621.4,513.5 L621.8,513.7 L622.1,514.8 L622.1,514.9 L622.5,514.7 L622.8,517.8 L622.8,515.1 L623.2,515.7 L623.5,514.8 L623.5,514.1 L623.9,514.6 L624.2,514.7 L624.6,514.1 L624.9,516.4 L625.3,516.2 L625.6,516.1 L626,514.4 L626.3,516.7 L626.7,516.5 L627,515.6 L627.4,516 L627.7,515 L628.1,514.1 L628.4,513.6 L628.8,513.6 L629.1,512.9 L629.5,513.4 L629.8,514.2 L630.2,513.8 L630.5,513.9 L630.9,514 L631.2,513.5 L631.6,515 L631.9,515.4 L632.3,517 L632.6,516.8 L633,516 L633.3,516.8 L633.7,517.4 L634,515.3 L634.4,516.9 L634.7,514.5 L635.1,514.9 L635.4,514.7 L635.8,515.9 L636.1,516.2 L636.5,515.5 L636.8,514.3 L637.2,515.7 L637.5,514.2 L637.9,513.9 L638.2,515.5 L638.6,514.7 L638.9,514.8 L639.3,514.6 L639.6,515.3 L640,513.9 L640.3,514.8 L640.7,514.6 L641,515.3 L641.4,514.4 L641.7,515.4 L642.1,515.2 L642.4,514.7 L642.8,514.7 L643.1,516 L643.5,514.8 L643.8,517.2 L650.4,516.8 L650.9,507.5 L651.4,498.4 L651.9,489.7 L652.5,487.5 L653.2,489.1 L653.8,486.8 L654.3,486.7 L654.8,486.5 L655.3,486.6 L655.8,488.7 L656.4,486.5 L657,487.9 L657.6,487 L658.2,485.8 L658.7,493.7 L659.2,501.5 L659.7,509.1 L660.3,514.9 L660.9,521.8 L661.5,527.9 L662.1,534.3 L661.6,509.1 L662.2,511 L662.8,512 L663.3,513.1 L663.9,511.7 L664.5,513.9 L670.3,513 L670.6,513.1 L671,513.3 L671.4,511.2 L671.7,511.5 L672.1,511.3 L672.4,511.2 L672.8,513.4 L673.1,513.3 L673.5,513 L673.8,513.5 L674.2,513.1 L674.5,512.3 L674.9,511.8 L675.2,511.5 L675.6,512.7 L675.9,510.7 L676.3,510.5 L676.6,510.2 L677,508.6 L677.3,508.6 L677.7,508.9 L678,510.6 L678.4,510.3 L678.7,510.7 L679.1,512.9 L679.4,512.3 L679.8,513.7 L680.1,513.1 L680.5,511.4 L680.8,512.2 L681.2,512.1 L681.5,512.8 L681.9,511.5 L682.2,512.3 L682.6,511.7 L682.9,510.7 L683.3,512.2 L683.6,510 L684,512.3 L684.3,511.3 L684.7,511.6 L685,512.8 L685.4,514.9 L685.7,514.9 L685.7,516.1 L686.1,513.6 L686.4,527.5 L686.4,514.9 L686.8,514.9 L686.9,514.9 L687.1,514.9 L687.1,515.7 L687.5,514.1 L687.6,501.3 L687.8,514.9 L688.2,514.5 L688.3,514.9 L688.5,515.8 L688.9,514.3 L689.2,516.1 L689.6,514.4 L689.9,514.4 L690.3,515.8 L690.6,515.5 L690.8,516 L691,514.7 L691.3,516.3 L691.5,510 L691.7,515 L692,517 L692.2,516 L692.4,517 L692.7,517.4 L693.1,517.6 L693.4,518.1 L693.8,519.3 L694.1,520.4 L694.5,522.6 L694.8,519.8 L695.2,521.2 L695.5,518.2 L695.9,518 L696.2,517.4 L696.6,519 L696.9,518.1 L697.3,518 L697.6,519.4 L698,517.9 L698.3,518.7 L698.7,519.1 L699,519.9 L699.4,520.1 L699.7,520.2 L699.7,520.1 L700.1,519.6 L700.4,503.3 L700.4,519.7 L700.8,519.5 L701.1,520.2 L701.1,521.5 L701.5,521 L701.8,521.1 L702.2,519.5 L702.5,520.1 L702.9,520.8 L703.2,520.2 L703.6,518.9 L703.9,519.7 L704.3,521.5 L704.6,521.7 L705,523.5 L705.3,523.6 L705.7,524.1 L706,523.9 L706.4,521.5 L706.7,520.9 L707.1,520.6 L707.4,520.2 L707.8,520.2 L708.1,518.9 L708.5,519.6 L708.8,519.4 L709.2,521.7 L709.5,521.3 L709.9,519.9 L710.2,522.4 L710.6,520.4 L710.9,521.4 L711.3,522.8 L711.6,522.2 L712,521.9 L712.3,521 L712.7,520.3 L713,521.3 L713.4,519.8 L713.7,520 L714.1,520.3 L714.4,519.3 L714.8,520.2 L714.8,520.3 L715.1,521.1 L715.2,520.1 L715.5,520.8 L715.5,502.3 L715.8,520.2 L715.9,533.3 L716.2,520.4 L716.2,520.3 L716.5,519.9 L716.6,520.1 L716.9,519 L717.2,520.1 L717.6,519.5 L717.9,520 L718.3,520.1 L718.6,518.6 L719,518.6 L719.3,518.7 L719.7,517.6 L720,517.3 L720.3,518.5 L720.4,518.8 L720.7,519.3 L721,527.5 L721.1,519.2 L721.4,519.2 L721.7,518.5 L721.8,519.8 L722.1,519.5 L722.5,519.6 L722.8,519.3 L723.2,519.1 L723.5,519.9 L723.9,518.1 L724.2,518.6 L724.6,519.1 L724.9,518.5 L725.3,517.9 L725.6,516.5 L726,516.7 L726.3,517.1 L726.7,518 L727,517.8 L727.4,518.9 L727.7,520 L728.1,518.4 L728.4,520.1 L728.8,520.8 L729.1,520.2 L729.5,520.5 L729.8,521.3 L730.2,518.4 L730.5,519.3 L730.9,517.9 L731.2,519 L731.6,519 L731.9,517.5 L732.3,515.9 L732.6,516.7 L733,516.2 L733.3,517.8 L733.7,519.6 L734,522.3 L734.4,523.3 L734.7,522.2 L735.1,521.7 L735.4,522.8 L735.8,520.6 L736.1,521.6 L736.5,520.6 L736.8,521.3 L737.2,519.4 L737.5,521.3 L737.9,519.4 L738.2,518.6 L738.6,519.2 L738.9,519.6 L739.3,518.7 L739.6,519.8 L740,519.9 L740.3,520.7 L740.7,519.9 L741,519.7 L741.4,519.7 L741.7,521.1 L742.1,521.7 L742.4,520.7 L742.8,520 L743.1,521.4 L743.5,520.3 L743.8,519.7 L744.2,519.4 L744.5,521 L744.9,521 L745.2,520.4 L745.6,519.9 L745.9,520.1 L746.3,519.1 L746.6,520.9 L747,519.1 L747.3,519.5 L747.7,519.7 L748,519.4 L748.4,518.1 L748.7,517.4 L749.1,517.7 L749.4,516.3 L749.8,517.8 L749.9,516.2 L750.1,516.3 L750.5,517.2 L750.6,513.9 L750.8,515.4 L750.9,515.3 L751.2,515.4 L751.3,516.2 L751.5,514.7 L751.6,525.5 L751.9,514.9 L752.2,513.9 L752.3,515.3 L752.6,513.1 L752.9,514.7 L753.3,513.2 L753.6,512.8 L753.8,512.7 L754,512.7 L754.3,512.8 L754.5,504.2 L754.7,512.4 L754.7,511.9 L755,512.6 L755.2,512.7 L755.4,512.3 L755.4,536.2 L755.7,511.2 L756.1,512.4 L756.1,511.9 L756.4,511.9 L756.7,510.1 L756.8,509.5 L757.1,511.2 L757.4,502.3 L757.5,511.1 L757.8,510.4 L758.1,510.1 L758.2,508.5 L758.5,509.9 L758.6,508.4 L758.9,509.1 L759.2,507.2 L759.3,516.8 L759.6,506.9 L759.9,509 L760,508.4 L760.3,507.9 L760.6,506.5 L761,505.8 L761.3,505.6 L761.7,505.6 L762,507.1 L762.4,506.2 L762.7,505.9 L763.1,508 L763.4,507.9 L763.8,506.5 L764.1,508.6 L764.5,508 L764.8,508.7 L765.2,508.6 L765.5,509.5 L765.9,509.6 L766.2,510.1 L766.6,508.8 L766.9,510.4 L767.3,510.3 L767.6,511.2 L768,510.8 L768.3,512.3 L768.7,511.8 L769,511.4 L769.4,510.7 L769.7,509.9 L770.1,510.2 L770.4,508.5 L770.8,509 L771.1,507.5 L771.5,507.8 L771.8,507.3 L772.2,507.4 L772.5,508.5 L772.9,506.5 L773.2,509 L773.6,508.2 L773.9,508.7 L774.3,509.3 L774.6,510 L775,509 L775.3,509.4 L775.7,511.1 L776,508.9 L776.4,510.4 L776.7,510.4 L777.1,508.8 L777.4,510.3 L777.8,510.5 L778.1,511.1 L778.5,509.6 L778.5,510 L778.8,511.3 L779.2,510 L779.2,515.9 L779.5,510 L779.7,510 L779.9,511 L779.9,510 L780.2,508.8 L780.4,492.6 L780.6,510.6 L780.9,510.3 L781.1,510 L781.3,509.6 L781.6,510.9 L782,509.2 L782.3,509.1 L782.7,508.8 L783,509 L783.4,507.1 L783.7,507.2 L784.1,506.8 L784.4,506.7 L784.8,507 L785.1,505.2 L785.5,506.1 L785.8,505.1 L786.2,505.5 L786.5,505 L786.9,505.8 L787.2,506.1 L787.2,507.1 L787.6,506.4 L787.9,490.7 L787.9,506.9 L788.3,505.8 L788.6,506.1 L788.6,506 L789,506 L789.3,506.9 L789.7,507.2 L790,507.7 L790.4,505.8 L790.7,507.2 L791.1,507.2 L791.4,505.9 L791.8,504.1 L792.1,504.5 L792.5,503.7 L792.8,504.1 L793.2,506 L793.5,505.2 L793.9,505.2 L794.2,505.6 L794.6,505.6 L794.9,504.5 L795.3,504.2 L795.6,503.8 L796,503.7 L796.3,503.1 L796.7,502.9 L797,501.4 L797.4,502.2 L797.7,501.3 L801.2,497.9 L801.8,492.4 L802.4,485.9 L803,480.6 L803.6,475.6 L804.1,470.7 L804.7,466.7 L805.2,465.2 L805.7,463.4 L806.3,460.8 L806.8,458.1 L807.3,456.3 L807.9,454.6 L808.4,452.3 L809,449.4 L809.5,448 L810,445.7 L810.6,444.3 L811.1,443 L811.6,441.6 L812.1,439 L812.6,437 L813.2,435.2 L813.7,433.5 L814.2,430.4 L814.7,428.7 L815.2,430.9 L815.7,428.8 L816.2,429.3 L816.7,432.2 L817.2,431.4 L817.7,431.2 L818.2,434.8 L818.7,437 L819.3,439.3 L819.8,442.9 L820.3,446 L820.8,447.4 L821.3,449.5 L821.9,450.9 L822.4,450.7 L822.9,452 L823.4,455.9 L823.9,459.4 L824.5,464.1 L825,467.5 L825.5,471.9 L826,476 L826.5,480.3 L827.1,484.8 L827.6,490.1 L828.1,494.4 L828.7,497.3 L829.2,502.1 L829.8,504.2 L830.4,508.8 L830.9,511.2 L831.5,515.2 L832.1,512.7 L832.7,513.5 L833.3,511.7 L833.8,509.1 L834.3,508 L834.8,504.8 L835.3,502.5 L835.8,501.3 L836.3,500.4 L836.9,498.8 L837.5,497.6 L838,495.8 L838.5,492.7 L839.1,492.5 L839.7,491.2 L840.2,489.2 L840.8,486.8 L841.3,485.5 L841.9,482.3 L842.4,478.2 L842.9,475.3 L843.5,471.2 L844,466.4 L844.5,463.3 L845.4,487.5 L845.9,490.2 L846.4,494.6 L847,498.3 L847.5,500.7 L848,504.8 L848.5,505.7 L849,508.1 L849.6,508.1 L850.1,511.2 L850.6,511.7 L851.2,511.6 L851.7,509.8 L852.3,511.1 L852.9,512 L853.4,511.4 L854,511.7 L854.9,516 L855.4,514.1 L855.9,510.8 L856.5,509.9 L857,506.8 L857.5,504.8 L858,501.9 L858.5,498.8 L859.1,495.3 L859.6,492.1 L860.1,489.2 L860.7,484.3 L861.2,479.3 L861.8,473.6 L862.4,475.5 L862.9,476.1 L863.5,477.1 L864,475.2 L864.5,473.3 L865.1,474.1 L865.6,472.1 L866.1,470.2 L866.7,470.7 L867.3,468.4 L867.9,468.4 L868.4,472.7 L868.9,477.3 L869.4,481.3 L869.9,485.2 L870.4,489.2 L870.9,488.6 L871.4,489.3 L872,491.3 L872.5,489.4 L873,490.1 L873.6,490.5 L874.2,489.9 L874.8,489.2 L875.4,487.7 L875.9,485.2 L876.5,482.3 L876.6,510 L877.2,508.7 L877.7,507.2 L878.3,507.5 L878.9,507.4 L879.4,507.4 L880,506.5 L880.6,509.4 L881.1,511.9 L881.7,513.4 L882.2,513.7 L882.7,517 L883.3,518.3 L883.8,519.8 L884.3,520.3 L884.8,519.7 L885.3,517.9 L885.9,518.8 L886.4,517.8 L886.9,516 L887.5,516.2 L888,516.6 L888.6,514.2 L889.2,512.8 L889.7,514 L890.3,513.4 L890.8,510.4 L891.3,506.1 L891.8,503.4 L892.3,500.2 L892.8,495.7 L893.3,492.8 L893.8,489.2 L894.3,484.2 L894.8,478.8 L895.4,473.3 L895.9,468.2 L896.4,463.3 L896.9,457.7 L897.4,451.8 L898,445.6 L898.5,439.3 L899,433.8 L899.6,429.6 L900.1,424.9 L900.7,420 L901.2,411.8 L901.7,404.1 L902.3,396.3 L902.8,388.3 L903.3,380 L903.9,374 L904.5,368 L905,362.1 L905.6,355.7 L906.2,350 L906.7,340.3 L907.2,330.8 L907.8,321.6 L908.3,312 L908.8,307.7 L909.3,303.9 L909.8,299.7 L910.3,295.7 L910.8,291.1 L911.3,286.1 L911.9,281.3 L912.4,277.3 L912.9,277.2 L913.4,274.4 L913.9,272.4 L914.4,272.1 L914.9,273.3 L915.5,274.5 L916,273.4 L916.5,275.2 L917,273.6 L917.5,271.3 L918,269.9 L918.5,268.1 L919,264.7 L919.5,262.1 L920.1,261.2 L920.6,257.8 L921.1,260.2 L921.6,260.9 L922.1,262.6 L922.6,264 L923.1,262.5 L923.7,263.3 L924.2,261.4 L924.7,260.9 L925.2,260.8 L925.7,259.2 L926.3,258.1 L926.8,257.2 L927.3,254.8 L927.8,255.4 L928.3,256.1 L928.8,257.7 L929.3,258.9 L929.8,260.9 L930.3,268.7 L930.9,276.9 L931.4,285.4 L932.2,304.9 L932.8,297.8 L933.3,290.9 L933.9,283.4 L934.4,284.8 L934.9,287.5 L935.4,288.9 L935.9,289.5 L936.4,283 L936.9,277.3 L937.4,271 L937.9,265 L938.4,261.8 L939,260.7 L939.5,256.9 L940,254.8 L940.5,265 L941.1,275.3 L941.6,285.4 L942.1,276.2 L942.6,266.4 L943.1,256.8 L943.8,242.9 L944.5,229.2 L945,239.7 L945.6,250.1 L946.1,260.9 L946.6,270.4 L947.2,279.6 L947.7,288.3 L948.2,297.7 L948.7,301.2 L949.2,305.6 L949.7,309.8 L950.2,314.1 L950.7,316.1 L951.2,317 L951.8,317.6 L952.3,316.2 L952.8,319.2 L953.3,319.2 L953.8,319.4 L954.3,318.7 L954.8,319.3 L955.3,315.6 L955.8,315.4 L956.3,316.1 L956.8,318.2 L957.3,320.2 L957.9,321.1 L958.4,322.2 L958.9,319.5 L959.5,317.6 L960,315.1 L960.5,324.5 L961,333.2 L961.5,342.7 L962,338.4 L962.5,334.2 L963,330 L963.5,326.3 L964,321.9 L964.5,318.2 L965,315 L965.5,312.1 L966,310.3 L966.6,306.4 L967.1,304.9 L967.6,301.8 L968.1,295.9 L968.6,290.1 L969.1,285.4 L969.6,279.3 L970.1,277.2 L970.6,277.6 L971.2,276.1 L971.7,274.8 L972.2,271.6 L972.7,271.1 L973.2,263.4 L973.8,255.4 L974.3,248.4 L974.8,240.4 L975.4,239.5 L976,237 L976.5,233 L977,228.7 L977.5,224.4 L978.1,220.9 L978.6,216.3 L979.1,212.2 L979.6,210.4 L980.1,207.4 L980.7,205.5 L981.2,203.2 L981.7,202.5 L982.2,200 L982.7,197.7 L983.2,194.6 L983.7,193.5 L984.2,190 L984.7,187.9 L985.2,185.7 L985.7,182.5 L986.2,180.1 L986.8,178.6 L987.3,175.4 L987.8,174.7 L988.3,173.9 L988.8,175.4 L989.3,175.4 L989.8,169.1 L990.3,163.5 L990.9,156.6 L991.4,150.9 L991.9,147.2 L992.4,141.8 L992.9,138.6 L993.4,134 L993.9,129.2 L994.4,125.3 L994.9,124.2 L995.5,122.7 L996,121.6 L996.5,121.2 L997,122.9 L997.5,125.5 L998,129 L998.5,130.4 L999,134.8 L999.5,138.5 L1000,141.1 L1000.6,145.1 L1001.1,149.7 L1001.6,152.9 L1002.1,154.5 L1002.6,158.1 L1003.2,159.7 L1003.7,163.4 L1004.2,164 L1004.7,167.3 L1005.2,169.6 L1005.7,170.2 L1006.3,171.3 L1006.8,172.6 L1007.3,175.4 L1008,192 L1008.7,208.2 L1009.2,199.4 L1009.7,190.2 L1010.2,181.6 L1010.7,180.3 L1011.3,180.3 L1011.8,177.3 L1012.3,177.1 L1012.8,174.8 L1013.4,173.7 L1013.9,173.4 L1014.4,174 L1014.9,173.5 L1015.4,171.2 L1015.9,170.5 L1016.4,170.1 L1016.9,171.3 L1017.4,171.6 L1017.9,170.9 L1018.5,169.9 L1019,169.5 L1019.5,170.9 L1020,170.3 L1020.5,166.3 L1021,162.2 L1021.5,157.7 L1022.1,152.9 L1022.6,148.5 L1023.1,144.8 L1023.7,140.6 L1024.3,135.7 L1024.9,131.6 L1025.5,126.2 L1026.1,122.3 L1026.6,125 L1027.1,126.1 L1027.6,129.1 L1028.1,131.2 L1028.6,132.5 L1029.1,134.5 L1029.7,135.6 L1030.2,138.6 L1030.8,133.2 L1031.3,127 L1031.9,121.2 L1032.6,129.8 L1033.3,137.6 L1033.8,136.1 L1034.3,135.1 L1034.8,136.3 L1035.3,134.5 L1035.8,138.9 L1036.3,143.3 L1036.9,148.1 L1037.4,152.9 L1037.9,159.1 L1038.4,164.7 L1038.9,171.4 L1039.4,177.5 L1039.9,179.4 L1040.5,181.6 L1041,182.9 L1041.5,185.7 L1042,190 L1042.5,194.3 L1043,198.4 L1043.5,202 L1044,207.4 L1044.6,213.4 L1045.1,218.7 L1045.7,224.7 L1046.2,230 L1046.7,234.1 L1047.3,239.7 L1047.8,243.8 L1048.3,247.9 L1048.8,250.7 L1049.4,254.2 L1049.9,257.7 L1050.4,261.1 L1050.9,264.3 L1051.4,266.6 L1052,271.2 L1052.5,273.1 L1053,276.7 L1053.5,278.5 L1054,280.8 L1054.6,283.5 L1055.1,287 L1055.6,288.8 L1056.2,290.9 L1056.7,293.9 L1057.3,297.5 L1057.8,298.6 L1058.3,297.1 L1058.9,296.7 L1059.4,299.2 L1059.9,299.2 L1060.4,302.3 L1060.9,305.1 L1061.5,308.4 L1062,310.3 L1062.5,313.9 L1063,314.1 L1063.5,312.8 L1064.1,310 L1064.6,309.4 L1065.1,309.6 L1065.7,308.3 L1066.2,307 L1066.8,305.1 L1067.4,303.4 L1067.9,302.9 L1068.5,301.8 L1069,302.5 L1069.5,305.1 L1070.1,307.3 L1070.6,307.2 L1071.1,309.6 L1071.6,311.7 L1072.2,314 L1072.7,314.8 L1073.2,317.4 L1073.7,316 L1074.2,314.3 L1074.8,311.1 L1075.3,309.2 L1075.8,308 L1076.3,305.3 L1076.8,307.6 L1077.3,309.6 L1077.9,312.9 L1078.4,314.8 L1078.9,316.5 L1079.4,316.9 L1079.9,317.5 L1080.5,318.6 L1081,319.8 L1081.5,320.8 L1082,323.1 L1082.5,323.4 L1083.1,324.6 L1083.6,325.2 L1084.1,325.2 L1084.7,330.6 L1085.2,334.5 L1085.8,340 L1086.3,344.2 L1086.9,349 L1087.5,353.1 L1088,356.7 L1088.5,359.7 L1089,363.3 L1089.5,366.9 L1090,369.9 L1090.5,373.5 L1091,376.2 L1091.5,380.1 L1092,383.5 L1092.5,387.5 L1093,390.9 L1093.5,395.1 L1094,400.2 L1094.5,403.9 L1095,408.1 L1095.5,411.8 L1096,415.6 L1096.5,418.8 L1097,421.6 L1097.5,424.3 L1098,425.5 L1098.5,429.2 L1099,431.3 L1099.5,434.6 L1100,437 L1100.5,435.5 L1101.1,435.5 L1101.6,435.9 L1102.2,434.2 L1102.7,433 L1103.2,433 L1103.8,434.7 L1104.3,435.2 L1104.9,437.6 L1105.4,437 L1105.9,437.1 L1106.4,437.9 L1106.9,439.7 L1107.4,438.8 L1107.9,441 L1108.4,442.8 L1108.9,442.2 L1109.4,442.2 L1109.9,443.6 L1110.4,442.6 L1110.9,441.8 L1111.4,439.8 L1111.9,438.8 L1112.4,437.8 L1112.9,437.4 L1113.4,437 L1113.9,435.1 L1114.4,433.2 L1114.9,431.4 L1115.4,429.4 L1115.9,428.7 L1116.4,427.7 L1116.9,425.5 L1117.4,423.6 L1117.9,422.7 L1118.5,421.9 L1119,419.5 L1119.6,419.9 L1120.1,418.2 L1120.6,418.6 L1121.2,419.4 L1121.7,420.2 L1122.3,420.3 L1122.8,420.9 L1123.3,418.1 L1123.9,415.6 L1124.4,413.2 L1125,411.3 L1125.5,408.9 L1126,410.2 L1126.5,412.3 L1127.1,412.6 L1127.6,415 L1128.1,416.9 L1128.6,418.2 L1129.1,415.5 L1129.6,416.6 L1130.1,416.2 L1130.6,415.2 L1131.1,417.9 L1131.6,414.9 L1132.1,415.6 L1132.6,417.6 L1133.1,417.4 L1133.6,418.6 L1134.1,421.9 L1134.6,422.1 L1135.1,422.6 L1135.6,424.7 L1136.1,426.3 L1136.6,427.5 L1137.1,429.6 L1137.6,429.3 L1138.2,431 L1138.7,434.1 L1139.2,434.9 L1139.7,434.8 L1140.2,437 L1140.7,437.6 L1141.2,438.7 L1141.8,440.7 L1142.3,441.6 L1142.8,442.3 L1143.5,449.4 L1144.2,455.7 L1144.7,454.8 L1145.2,452.5 L1145.8,451.4 L1146.3,449.8 L1146.8,447.6 L1147.3,449.8 L1147.9,450.8 L1148.4,453.1 L1149,454.6 L1149.5,455.7 L1150,458.3 L1150.5,458.2 L1151,461.5 L1151.6,461.3 L1152.1,464.6 L1152.6,465.7 L1153.2,468.7 L1153.7,471.5 L1154.3,474.4 L1154.8,479.3 L1155.3,483.1 L1155.9,487.3 L1156.4,492 L1156.9,496 L1157.4,492.1 L1157.9,487.5 L1158.5,482.9 L1159,478.7 L1159.5,474.4 L1160,470.9 L1160.5,467.8 L1161.1,463.7 L1161.6,460.4 L1162.1,457.1 L1162.6,454.4 L1163.1,451.4 L1163.7,448.5 L1164.2,446.5 L1164.7,443.3 L1165.6,431.1 L1166.2,436.7 L1166.7,441.5 L1167.3,446.7 L1168.2,431.1 L1169,462.3 L1169.6,456.5 L1170.2,450.4 L1170.8,445 L1171.4,445.6 L1171.9,446.3 L1172.5,448.7 L1173.1,449.8 L1173.6,449.6 L1174.2,451.9 L1174.7,452 L1175.2,449.3 L1175.8,449.7 L1176.3,448.7 L1176.8,446.7 L1177.3,446.8 L1177.8,443.7 L1178.3,443.2 L1178.8,443.3 L1179.3,439.8 L1179.8,438.8 L1180.3,438.9 L1180.9,441.6 L1181.4,444.1 L1182,446.7 L1182.5,448.5 L1183,447.9 L1183.6,446.9 L1184.1,448.9 L1184.6,446.7 L1185.2,445 L1185.7,443.3 L1186.3,441.5 L1186.8,441.6 L1187.3,440.2 L1187.8,439.6 L1188.3,439.9 L1188.8,438.6 L1189.3,440.1 L1189.8,438.1 L1190.3,439 L1190.8,438.5 L1191.4,437 L1191.9,438.2 L1192.4,438.9 L1192.9,437.1 L1193.4,435.9 L1194,434.4 L1194.5,433.5 L1195,431.1 L1195.6,427.7 L1196.1,423 L1196.7,419 L1197.2,418.4 L1197.7,418.8 L1198.3,419.8 L1198.8,417.1 L1199.3,417.3 L1199.8,416.3 L1200.3,416.1 L1200.9,413.3 L1201.4,412.6 L1201.9,412.1 L1202.4,414.2 L1202.9,413.7 L1203.4,412.5 L1203.9,411 L1204.4,414.4 L1204.9,413.6 L1205.4,413 L1205.9,414.8 L1206.4,416.2 L1207,416.7 L1207.5,416.2 L1208,417.3 L1208.6,415.2 L1209.1,414.4 L1209.7,413.8 L1210.3,417.3 L1210.8,420.7 L1211.4,424.2 L1212,424.5 L1212.5,425.7 L1213.1,427.7 L1213.7,430.8 L1214.3,433.6 L1214.9,436.3 L1215.5,440.1 L1216,445.1 L1216.6,448.4 L1217.5,472.7 L1218,473.3 L1218.5,470.7 L1219.1,472.3 L1219.6,474 L1220.1,472.7 L1220.6,472.8 L1221.1,474.7 L1221.7,473.2 L1222.2,474.8 L1222.7,476.1 L1223.2,478.9 L1223.7,480.4 L1224.3,482.7 L1224.8,483.8 L1225.3,486.5 L1225.8,486.2 L1226.3,486 L1226.9,484.6 L1227.4,485.7 L1227.9,484.8 L1228.4,486.8 L1228.9,489.6 L1229.4,490.7 L1229.9,492.2 L1230.4,494.3 L1231,489.3 L1231.6,484.8 L1232.1,481 L1232.7,476.1 L1233,503.8 L1233.6,499.2 L1234.2,495.2 L1234.8,491.7 L1235.4,491.6 L1235.9,493.5 L1236.5,494.3" fill="none" stroke="#22b14c" stroke-width="2.5" stroke-linejoin="round" stroke-linecap="round"/>
<g shape-rendering="crispEdges">
<rect x="30" y="8" width="1" height="565" fill="#000" fill-opacity="0.3"/>
<rect x="33" y="8" width="1" height="561" fill="#000" fill-opacity="0.25"/>
<rect x="31" y="8" width="2" height="565" fill="#5c5c5c"/>
<rect x="33" y="569" width="1204" height="1" fill="#000" fill-opacity="0.25"/>
<rect x="30" y="572" width="1208" height="1" fill="#000" fill-opacity="0.12"/>
<rect x="31" y="570" width="1207" height="2" fill="#5c5c5c"/>
<rect x="29.35" y="571" width="2" height="8" fill="#3a3a3a" shape-rendering="geometricPrecision"/><rect x="133.25" y="571" width="2" height="8" fill="#3a3a3a" shape-rendering="geometricPrecision"/><rect x="237.15" y="571" width="2" height="8" fill="#3a3a3a" shape-rendering="geometricPrecision"/><rect x="341.05" y="571" width="2" height="8" fill="#3a3a3a" shape-rendering="geometricPrecision"/><rect x="444.95" y="571" width="2" height="8" fill="#3a3a3a" shape-rendering="geometricPrecision"/><rect x="548.85" y="571" width="2" height="8" fill="#3a3a3a" shape-rendering="geometricPrecision"/><rect x="652.75" y="571" width="2" height="8" fill="#3a3a3a" shape-rendering="geometricPrecision"/><rect x="756.65" y="571" width="2" height="8" fill="#3a3a3a" shape-rendering="geometricPrecision"/><rect x="860.55" y="571" width="2" height="8" fill="#3a3a3a" shape-rendering="geometricPrecision"/><rect x="964.45" y="571" width="2" height="8" fill="#3a3a3a" shape-rendering="geometricPrecision"/><rect x="1068.35" y="571" width="2" height="8" fill="#3a3a3a" shape-rendering="geometricPrecision"/><rect x="1172.25" y="571" width="2" height="8" fill="#3a3a3a" shape-rendering="geometricPrecision"/><rect x="1236" y="571" width="2" height="8" fill="#2a2a2a"/>
</g>
<text transform="translate(33,597) scale(1.13,1)" class="xl" text-anchor="start">0.0</text><text transform="translate(130.8,597) scale(1.13,1)" class="xl" text-anchor="middle">2.5</text><text transform="translate(234.7,597) scale(1.13,1)" class="xl" text-anchor="middle">5.0</text><text transform="translate(338.6,597) scale(1.13,1)" class="xl" text-anchor="middle">7.5</text><text transform="translate(442.5,597) scale(1.13,1)" class="xl" text-anchor="middle">10.0</text><text transform="translate(546.4,597) scale(1.13,1)" class="xl" text-anchor="middle">12.5</text><text transform="translate(650.3,597) scale(1.13,1)" class="xl" text-anchor="middle">15.0</text><text transform="translate(754.2,597) scale(1.13,1)" class="xl" text-anchor="middle">17.5</text><text transform="translate(858.1,597) scale(1.13,1)" class="xl" text-anchor="middle">20.0</text><text transform="translate(962.0,597) scale(1.13,1)" class="xl" text-anchor="middle">22.5</text><text transform="translate(1065.8,597) scale(1.13,1)" class="xl" text-anchor="middle">25.0</text><text transform="translate(1169.8,597) scale(1.13,1)" class="xl" text-anchor="middle">27.5</text><text transform="translate(1232,597) scale(1.13,1)" class="xl" text-anchor="end">29.0</text>
<text transform="translate(629,626) scale(1.195,1)" class="tt" text-anchor="middle">Distanz&#160;&#160;(km)</text>
<text transform="translate(22.5,292.5) rotate(-90) scale(1.2,1)" class="tt" text-anchor="middle" style="font-size:16px">H&#246;he (m)</text>
</svg>
</body></html>
